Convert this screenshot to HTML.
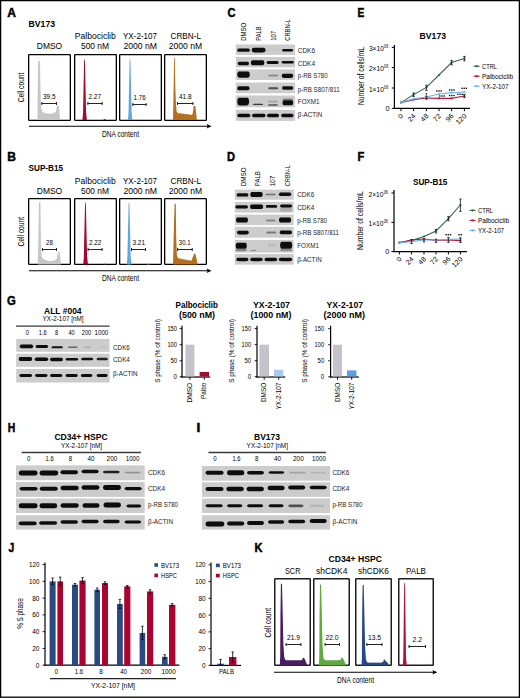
<!DOCTYPE html>
<html><head><meta charset="utf-8"><style>
html,body{margin:0;padding:0;background:#fff;}
svg{display:block;font-family:"Liberation Sans", sans-serif;}
</style></head><body>
<svg width="520" height="698" viewBox="0 0 520 698">
<defs><filter id="bl" x="-20%" y="-80%" width="140%" height="260%"><feGaussianBlur stdDeviation="0.45"/></filter></defs>
<rect x="0" y="0" width="520" height="698" fill="#fff"/>
<text x="7.20" y="17.00" font-size="12" font-weight="bold" stroke="#000" stroke-width="0.45" fill="#000" textLength="8.70" lengthAdjust="spacingAndGlyphs">A</text>
<text x="28.60" y="27.00" font-size="8.8" font-weight="bold" fill="#000" textLength="26.40" lengthAdjust="spacingAndGlyphs">BV173</text>
<text x="74.80" y="39.10" font-size="8.8" fill="#000" textLength="41.00" lengthAdjust="spacingAndGlyphs">Palbociclib</text>
<text x="123.00" y="39.10" font-size="8.8" fill="#000" textLength="34.00" lengthAdjust="spacingAndGlyphs">YX-2-107</text>
<text x="170.50" y="39.10" font-size="8.8" fill="#000" textLength="30.50" lengthAdjust="spacingAndGlyphs">CRBN-L</text>
<text x="36.80" y="49.40" font-size="8.8" fill="#000" textLength="25.40" lengthAdjust="spacingAndGlyphs">DMSO</text>
<text x="81.00" y="49.40" font-size="8.8" fill="#000" textLength="28.00" lengthAdjust="spacingAndGlyphs">500 nM</text>
<text x="123.50" y="49.40" font-size="8.8" fill="#000" textLength="33.50" lengthAdjust="spacingAndGlyphs">2000 nM</text>
<text x="168.80" y="49.40" font-size="8.8" fill="#000" textLength="33.20" lengthAdjust="spacingAndGlyphs">2000 nM</text>
<text transform="translate(23.60,102.20) rotate(-90)" x="0" y="0" font-size="8.8" fill="#000" textLength="29.60" lengthAdjust="spacingAndGlyphs">Cell count</text>
<rect x="28.65" y="54.65" width="41.70" height="65.70" fill="none" stroke="#000" stroke-width="1.3" rx="0.6"/>
<rect x="74.65" y="54.65" width="41.70" height="65.70" fill="none" stroke="#000" stroke-width="1.3" rx="0.6"/>
<rect x="119.65" y="54.65" width="41.70" height="65.70" fill="none" stroke="#000" stroke-width="1.3" rx="0.6"/>
<rect x="164.65" y="54.65" width="41.70" height="65.70" fill="none" stroke="#000" stroke-width="1.3" rx="0.6"/>
<line x1="29.00" y1="126.30" x2="208.60" y2="126.30" stroke="#000" stroke-width="1.1"/>
<path d="M206.60,124.00 L211.60,126.30 L206.60,128.60 L207.60,126.30 Z" fill="#000" stroke="none" stroke-width="1" />
<text x="102.00" y="137.00" font-size="8.6" fill="#000" textLength="37.00" lengthAdjust="spacingAndGlyphs">DNA content</text>
<path d="M37.40,120.00 L37.40,120.00 L37.90,75.00 L38.40,61.00 L40.00,61.00 L40.30,80.00 L40.80,100.00 L41.30,108.00 L42.20,111.60 L43.50,112.60 L44.55,113.29 L45.59,112.96 L46.64,113.75 L47.68,113.29 L48.73,113.95 L49.77,113.35 L50.82,113.89 L51.86,113.15 L52.91,113.56 L53.95,112.69 L55.00,112.60 L56.00,111.50 L56.60,108.00 L57.00,105.60 L58.80,105.80 L59.30,110.00 L60.10,119.00 L60.10,120.00 Z" fill="#c6c5ca" stroke="none" stroke-width="1" />
<path d="M82.46,120.00 L83.06,112.00 L84.05,63.40 L84.20,59.40 L84.80,59.40 L85.00,63.40 L86.06,112.00 L86.90,120.00 Z" fill="#a5092c" stroke="none" stroke-width="1" />
<path d="M103.10,120.00 L104.60,118.80 L106.10,120.00 Z" fill="#a5092c" stroke="none" stroke-width="1" />
<path d="M127.96,120.00 L128.56,112.00 L129.55,63.00 L129.70,59.00 L130.30,59.00 L130.50,63.00 L131.56,112.00 L132.40,120.00 Z" fill="#5ea7e2" stroke="none" stroke-width="1" />
<path d="M173.00,120.00 L173.00,120.00 L173.60,90.00 L174.10,58.00 L174.80,58.00 L175.20,83.00 L175.90,102.70 L176.70,112.00 L178.00,113.00 L179.00,113.52 L180.00,112.93 L181.00,113.74 L182.00,113.15 L183.00,113.97 L184.00,113.39 L185.00,114.22 L186.00,113.65 L187.00,114.49 L188.00,113.92 L189.00,114.77 L190.00,114.21 L191.00,115.06 L192.00,114.80 L192.60,114.00 L193.20,110.00 L193.70,106.10 L195.40,106.00 L196.00,112.00 L196.90,120.00 L196.90,120.00 Z" fill="#b5701f" stroke="none" stroke-width="1" />
<text x="43.00" y="99.00" font-size="6.6" fill="#000" textLength="12.60" lengthAdjust="spacingAndGlyphs">39.5</text>
<line x1="41.40" y1="103.50" x2="57.00" y2="103.50" stroke="#262626" stroke-width="1.0"/>
<line x1="41.90" y1="102.00" x2="41.90" y2="105.00" stroke="#262626" stroke-width="1.0"/>
<line x1="56.50" y1="102.00" x2="56.50" y2="105.00" stroke="#262626" stroke-width="1.0"/>
<text x="88.40" y="99.00" font-size="6.6" fill="#000" textLength="12.60" lengthAdjust="spacingAndGlyphs">2.27</text>
<line x1="87.40" y1="103.50" x2="102.60" y2="103.50" stroke="#262626" stroke-width="1.0"/>
<line x1="87.90" y1="102.00" x2="87.90" y2="105.00" stroke="#262626" stroke-width="1.0"/>
<line x1="102.10" y1="102.00" x2="102.10" y2="105.00" stroke="#262626" stroke-width="1.0"/>
<text x="133.60" y="100.00" font-size="6.6" fill="#000" textLength="12.00" lengthAdjust="spacingAndGlyphs">1.76</text>
<line x1="132.40" y1="104.50" x2="146.60" y2="104.50" stroke="#262626" stroke-width="1.0"/>
<line x1="132.90" y1="103.00" x2="132.90" y2="106.00" stroke="#262626" stroke-width="1.0"/>
<line x1="146.10" y1="103.00" x2="146.10" y2="106.00" stroke="#262626" stroke-width="1.0"/>
<text x="179.00" y="99.00" font-size="6.6" fill="#000" textLength="12.60" lengthAdjust="spacingAndGlyphs">41.8</text>
<line x1="177.00" y1="103.50" x2="193.40" y2="103.50" stroke="#262626" stroke-width="1.0"/>
<line x1="177.50" y1="102.00" x2="177.50" y2="105.00" stroke="#262626" stroke-width="1.0"/>
<line x1="192.90" y1="102.00" x2="192.90" y2="105.00" stroke="#262626" stroke-width="1.0"/>
<text x="7.20" y="161.40" font-size="12" font-weight="bold" stroke="#000" stroke-width="0.45" fill="#000" textLength="8.70" lengthAdjust="spacingAndGlyphs">B</text>
<text x="28.60" y="171.40" font-size="8.8" font-weight="bold" fill="#000" textLength="34.40" lengthAdjust="spacingAndGlyphs">SUP-B15</text>
<text x="74.80" y="183.50" font-size="8.8" fill="#000" textLength="41.00" lengthAdjust="spacingAndGlyphs">Palbociclib</text>
<text x="123.00" y="183.50" font-size="8.8" fill="#000" textLength="34.00" lengthAdjust="spacingAndGlyphs">YX-2-107</text>
<text x="170.50" y="183.50" font-size="8.8" fill="#000" textLength="30.50" lengthAdjust="spacingAndGlyphs">CRBN-L</text>
<text x="36.80" y="193.80" font-size="8.8" fill="#000" textLength="25.40" lengthAdjust="spacingAndGlyphs">DMSO</text>
<text x="81.00" y="193.80" font-size="8.8" fill="#000" textLength="28.00" lengthAdjust="spacingAndGlyphs">500 nM</text>
<text x="123.50" y="193.80" font-size="8.8" fill="#000" textLength="33.50" lengthAdjust="spacingAndGlyphs">2000 nM</text>
<text x="168.80" y="193.80" font-size="8.8" fill="#000" textLength="33.20" lengthAdjust="spacingAndGlyphs">2000 nM</text>
<text transform="translate(23.60,246.60) rotate(-90)" x="0" y="0" font-size="8.8" fill="#000" textLength="29.60" lengthAdjust="spacingAndGlyphs">Cell count</text>
<rect x="28.65" y="198.65" width="41.70" height="65.70" fill="none" stroke="#000" stroke-width="1.3" rx="0.6"/>
<rect x="74.65" y="198.65" width="41.70" height="65.70" fill="none" stroke="#000" stroke-width="1.3" rx="0.6"/>
<rect x="119.65" y="198.65" width="41.70" height="65.70" fill="none" stroke="#000" stroke-width="1.3" rx="0.6"/>
<rect x="164.65" y="198.65" width="41.70" height="65.70" fill="none" stroke="#000" stroke-width="1.3" rx="0.6"/>
<line x1="29.00" y1="270.70" x2="208.60" y2="270.70" stroke="#000" stroke-width="1.1"/>
<path d="M206.60,268.40 L211.60,270.70 L206.60,273.00 L207.60,270.70 Z" fill="#000" stroke="none" stroke-width="1" />
<text x="102.00" y="281.40" font-size="8.6" fill="#000" textLength="37.00" lengthAdjust="spacingAndGlyphs">DNA content</text>
<path d="M37.70,264.40 L37.70,264.40 L38.40,240.00 L38.90,202.00 L40.40,202.00 L40.70,225.00 L41.00,245.00 L41.60,256.40 L42.60,258.30 L44.00,259.30 L45.00,260.07 L46.00,259.96 L47.00,260.76 L48.00,260.49 L49.00,261.13 L50.00,260.70 L51.00,261.18 L52.00,260.59 L53.00,260.91 L54.00,260.16 L55.00,260.32 L56.00,259.60 L56.80,258.60 L57.60,255.00 L58.20,251.60 L59.40,251.80 L60.00,256.00 L61.10,264.40 L61.10,264.40 Z" fill="#c6c5ca" stroke="none" stroke-width="1" />
<path d="M83.19,264.40 L83.84,256.40 L84.95,206.40 L85.10,202.40 L85.70,202.40 L85.90,206.40 L87.09,256.40 L88.00,264.40 Z" fill="#a5092c" stroke="none" stroke-width="1" />
<path d="M103.70,264.40 L105.20,263.50 L106.70,264.40 Z" fill="#a5092c" stroke="none" stroke-width="1" />
<path d="M126.79,264.40 L127.44,256.40 L128.55,206.80 L128.70,202.80 L129.30,202.80 L129.50,206.80 L130.69,256.40 L131.60,264.40 Z" fill="#5ea7e2" stroke="none" stroke-width="1" />
<path d="M146.90,264.40 L148.40,263.20 L149.90,264.40 Z" fill="#5ea7e2" stroke="none" stroke-width="1" />
<path d="M173.00,264.40 L173.00,264.40 L173.70,235.00 L174.60,203.80 L175.80,203.80 L176.20,237.00 L176.90,255.40 L178.00,257.90 L179.00,258.20 L180.04,258.83 L181.08,258.49 L182.12,259.34 L183.17,258.96 L184.21,259.77 L185.25,259.36 L186.29,260.14 L187.33,259.69 L188.38,260.44 L189.42,259.96 L190.46,260.67 L191.50,260.40 L192.20,258.40 L193.40,255.50 L194.20,253.70 L195.40,253.80 L196.40,258.00 L197.60,264.40 L197.60,264.40 Z" fill="#b5701f" stroke="none" stroke-width="1" />
<text x="46.00" y="244.50" font-size="6.6" fill="#000" textLength="6.80" lengthAdjust="spacingAndGlyphs">28</text>
<line x1="42.00" y1="249.50" x2="57.00" y2="249.50" stroke="#262626" stroke-width="1.0"/>
<line x1="42.50" y1="248.00" x2="42.50" y2="251.00" stroke="#262626" stroke-width="1.0"/>
<line x1="56.50" y1="248.00" x2="56.50" y2="251.00" stroke="#262626" stroke-width="1.0"/>
<text x="89.00" y="244.50" font-size="6.6" fill="#000" textLength="12.40" lengthAdjust="spacingAndGlyphs">2.22</text>
<line x1="87.60" y1="249.50" x2="102.60" y2="249.50" stroke="#262626" stroke-width="1.0"/>
<line x1="88.10" y1="248.00" x2="88.10" y2="251.00" stroke="#262626" stroke-width="1.0"/>
<line x1="102.10" y1="248.00" x2="102.10" y2="251.00" stroke="#262626" stroke-width="1.0"/>
<text x="132.40" y="244.50" font-size="6.6" fill="#000" textLength="12.60" lengthAdjust="spacingAndGlyphs">3.21</text>
<line x1="131.00" y1="249.50" x2="146.00" y2="249.50" stroke="#262626" stroke-width="1.0"/>
<line x1="131.50" y1="248.00" x2="131.50" y2="251.00" stroke="#262626" stroke-width="1.0"/>
<line x1="145.50" y1="248.00" x2="145.50" y2="251.00" stroke="#262626" stroke-width="1.0"/>
<text x="178.80" y="244.50" font-size="6.6" fill="#000" textLength="11.70" lengthAdjust="spacingAndGlyphs">30.1</text>
<line x1="177.10" y1="249.50" x2="192.70" y2="249.50" stroke="#262626" stroke-width="1.0"/>
<line x1="177.60" y1="248.00" x2="177.60" y2="251.00" stroke="#262626" stroke-width="1.0"/>
<line x1="192.20" y1="248.00" x2="192.20" y2="251.00" stroke="#262626" stroke-width="1.0"/>
<text x="227.40" y="17.00" font-size="12" font-weight="bold" stroke="#000" stroke-width="0.45" fill="#000" textLength="8.00" lengthAdjust="spacingAndGlyphs">C</text>
<text transform="translate(245.80,40.80) rotate(-90)" x="0" y="0" font-size="6.8" fill="#000" textLength="18.10" lengthAdjust="spacingAndGlyphs">DMSO</text>
<text transform="translate(260.50,40.80) rotate(-90)" x="0" y="0" font-size="6.8" fill="#000" textLength="14.40" lengthAdjust="spacingAndGlyphs">PALB</text>
<text transform="translate(275.80,40.80) rotate(-90)" x="0" y="0" font-size="6.8" fill="#000" textLength="9.80" lengthAdjust="spacingAndGlyphs">107</text>
<text transform="translate(290.20,40.80) rotate(-90)" x="0" y="0" font-size="6.8" fill="#000" textLength="21.60" lengthAdjust="spacingAndGlyphs">CRBN-L</text>
<rect x="235.80" y="44.50" width="59.30" height="10.40" fill="#cccccc" />
<rect x="235.80" y="57.00" width="59.30" height="10.40" fill="#cccccc" />
<rect x="235.80" y="69.40" width="59.30" height="10.60" fill="#cccccc" />
<rect x="235.80" y="82.50" width="59.30" height="10.80" fill="#cccccc" />
<rect x="235.80" y="95.50" width="59.30" height="11.80" fill="#cccccc" />
<rect x="235.80" y="109.80" width="59.30" height="11.10" fill="#cccccc" />
<text x="297.80" y="52.80" font-size="7" fill="#1c1c1c" textLength="17.20" lengthAdjust="spacingAndGlyphs">CDK6</text>
<text x="297.80" y="66.00" font-size="7" fill="#1c1c1c" textLength="17.20" lengthAdjust="spacingAndGlyphs">CDK4</text>
<text x="297.80" y="78.40" font-size="7" fill="#1c1c1c" textLength="29.80" lengthAdjust="spacingAndGlyphs">p-RB S780</text>
<text x="297.80" y="91.60" font-size="7" fill="#1c1c1c" textLength="41.80" lengthAdjust="spacingAndGlyphs">p-RB S807/811</text>
<text x="297.80" y="104.00" font-size="7" fill="#1c1c1c" textLength="21.80" lengthAdjust="spacingAndGlyphs">FOXM1</text>
<text x="297.80" y="117.40" font-size="7" fill="#1c1c1c" textLength="24.50" lengthAdjust="spacingAndGlyphs">β-ACTIN</text>
<path d="M237.30,50.20 C237.68,48.55 238.30,48.55 240.05,48.55 L247.05,48.55 C248.80,48.55 249.43,48.55 249.80,50.20 C249.43,51.85 248.80,51.85 247.05,51.85 L240.05,51.85 C238.30,51.85 237.68,51.85 237.30,50.20 Z" fill="#0a0a0a" fill-opacity="1" filter="url(#bl)"/>
<path d="M251.70,50.10 C252.12,47.70 252.81,47.70 254.76,47.70 L262.54,47.70 C264.49,47.70 265.18,47.70 265.60,50.10 C265.18,52.50 264.49,52.50 262.54,52.50 L254.76,52.50 C252.81,52.50 252.12,52.50 251.70,50.10 Z" fill="#0a0a0a" fill-opacity="1" filter="url(#bl)"/>
<path d="M267.50,50.20 C267.81,49.60 268.34,49.60 269.81,49.60 L275.69,49.60 C277.16,49.60 277.69,49.60 278.00,50.20 C277.69,50.80 277.16,50.80 275.69,50.80 L269.81,50.80 C268.34,50.80 267.81,50.80 267.50,50.20 Z" fill="#0a0a0a" fill-opacity="0.04" filter="url(#bl)"/>
<path d="M282.00,50.20 C282.34,48.95 282.90,48.95 284.46,48.95 L290.74,48.95 C292.30,48.95 292.86,48.95 293.20,50.20 C292.86,51.45 292.30,51.45 290.74,51.45 L284.46,51.45 C282.90,51.45 282.34,51.45 282.00,50.20 Z" fill="#0a0a0a" fill-opacity="1" filter="url(#bl)"/>
<path d="M237.70,63.60 C238.04,61.85 238.60,61.85 240.19,61.85 L246.51,61.85 C248.10,61.85 248.66,61.85 249.00,63.60 C248.66,65.35 248.10,65.35 246.51,65.35 L240.19,65.35 C238.60,65.35 238.04,65.35 237.70,63.60 Z" fill="#0a0a0a" fill-opacity="1" filter="url(#bl)"/>
<path d="M250.80,62.70 C251.21,60.20 251.89,60.20 253.79,60.20 L261.41,60.20 C263.31,60.20 263.99,60.20 264.40,62.70 C263.99,65.20 263.31,65.20 261.41,65.20 L253.79,65.20 C251.89,65.20 251.21,65.20 250.80,62.70 Z" fill="#0a0a0a" fill-opacity="1" filter="url(#bl)"/>
<path d="M266.50,62.60 C266.87,61.10 267.48,61.10 269.18,61.10 L276.02,61.10 C277.72,61.10 278.33,61.10 278.70,62.60 C278.33,64.10 277.72,64.10 276.02,64.10 L269.18,64.10 C267.48,64.10 266.87,64.10 266.50,62.60 Z" fill="#0a0a0a" fill-opacity="1" filter="url(#bl)"/>
<path d="M281.50,62.30 C281.88,61.05 282.50,61.05 284.25,61.05 L291.25,61.05 C293.00,61.05 293.62,61.05 294.00,62.30 C293.62,63.55 293.00,63.55 291.25,63.55 L284.25,63.55 C282.50,63.55 281.88,63.55 281.50,62.30 Z" fill="#0a0a0a" fill-opacity="1" filter="url(#bl)"/>
<path d="M237.30,74.60 C237.68,71.50 238.30,71.50 240.05,71.50 L247.05,71.50 C248.80,71.50 249.43,71.50 249.80,74.60 C249.43,77.70 248.80,77.70 247.05,77.70 L240.05,77.70 C238.30,77.70 237.68,77.70 237.30,74.60 Z" fill="#0a0a0a" fill-opacity="1" filter="url(#bl)"/>
<path d="M268.00,75.60 C268.31,74.60 268.82,74.60 270.27,74.60 L276.03,74.60 C277.48,74.60 277.99,74.60 278.30,75.60 C277.99,76.60 277.48,76.60 276.03,76.60 L270.27,76.60 C268.82,76.60 268.31,76.60 268.00,75.60 Z" fill="#0a0a0a" fill-opacity="0.3" filter="url(#bl)"/>
<path d="M281.70,75.80 C282.05,73.70 282.62,73.70 284.23,73.70 L290.67,73.70 C292.28,73.70 292.85,73.70 293.20,75.80 C292.85,77.90 292.28,77.90 290.67,77.90 L284.23,77.90 C282.62,77.90 282.05,77.90 281.70,75.80 Z" fill="#0a0a0a" fill-opacity="1" filter="url(#bl)"/>
<path d="M237.30,88.20 C237.67,86.20 238.28,86.20 239.98,86.20 L246.82,86.20 C248.52,86.20 249.13,86.20 249.50,88.20 C249.13,90.20 248.52,90.20 246.82,90.20 L239.98,90.20 C238.28,90.20 237.67,90.20 237.30,88.20 Z" fill="#0a0a0a" fill-opacity="1" filter="url(#bl)"/>
<path d="M268.20,88.20 C268.50,87.20 269.01,87.20 270.42,87.20 L276.08,87.20 C277.49,87.20 278.00,87.20 278.30,88.20 C278.00,89.20 277.49,89.20 276.08,89.20 L270.42,89.20 C269.01,89.20 268.50,89.20 268.20,88.20 Z" fill="#0a0a0a" fill-opacity="0.65" filter="url(#bl)"/>
<path d="M282.10,88.00 C282.43,86.25 282.99,86.25 284.54,86.25 L290.76,86.25 C292.31,86.25 292.87,86.25 293.20,88.00 C292.87,89.75 292.31,89.75 290.76,89.75 L284.54,89.75 C282.99,89.75 282.43,89.75 282.10,88.00 Z" fill="#0a0a0a" fill-opacity="1" filter="url(#bl)"/>
<path d="M237.30,101.60 C237.65,97.80 238.24,97.80 239.90,97.80 L246.50,97.80 C248.16,97.80 248.75,97.80 249.10,101.60 C248.75,105.40 248.16,105.40 246.50,105.40 L239.90,105.40 C238.24,105.40 237.65,105.40 237.30,101.60 Z" fill="#0a0a0a" fill-opacity="1" filter="url(#bl)"/>
<path d="M253.00,104.40 C253.30,103.70 253.80,103.70 255.20,103.70 L260.80,103.70 C262.20,103.70 262.70,103.70 263.00,104.40 C262.70,105.10 262.20,105.10 260.80,105.10 L255.20,105.10 C253.80,105.10 253.30,105.10 253.00,104.40 Z" fill="#0a0a0a" fill-opacity="0.8" filter="url(#bl)"/>
<path d="M268.00,101.60 C268.30,100.80 268.80,100.80 270.20,100.80 L275.80,100.80 C277.20,100.80 277.70,100.80 278.00,101.60 C277.70,102.40 277.20,102.40 275.80,102.40 L270.20,102.40 C268.80,102.40 268.30,102.40 268.00,101.60 Z" fill="#0a0a0a" fill-opacity="0.2" filter="url(#bl)"/>
<path d="M268.00,105.00 C268.30,104.10 268.80,104.10 270.20,104.10 L275.80,104.10 C277.20,104.10 277.70,104.10 278.00,105.00 C277.70,105.90 277.20,105.90 275.80,105.90 L270.20,105.90 C268.80,105.90 268.30,105.90 268.00,105.00 Z" fill="#0a0a0a" fill-opacity="0.45" filter="url(#bl)"/>
<path d="M282.50,102.80 C282.82,100.30 283.36,100.30 284.85,100.30 L290.85,100.30 C292.34,100.30 292.88,100.30 293.20,102.80 C292.88,105.30 292.34,105.30 290.85,105.30 L284.85,105.30 C283.36,105.30 282.82,105.30 282.50,102.80 Z" fill="#0a0a0a" fill-opacity="1" filter="url(#bl)"/>
<path d="M282.50,99.50 C282.82,98.50 283.36,98.50 284.85,98.50 L290.85,98.50 C292.34,98.50 292.88,98.50 293.20,99.50 C292.88,100.50 292.34,100.50 290.85,100.50 L284.85,100.50 C283.36,100.50 282.82,100.50 282.50,99.50 Z" fill="#0a0a0a" fill-opacity="0.35" filter="url(#bl)"/>
<path d="M237.30,115.50 C237.69,113.70 238.35,113.70 240.18,113.70 L247.52,113.70 C249.35,113.70 250.01,113.70 250.40,115.50 C250.01,117.30 249.35,117.30 247.52,117.30 L240.18,117.30 C238.35,117.30 237.69,117.30 237.30,115.50 Z" fill="#0a0a0a" fill-opacity="1" filter="url(#bl)"/>
<path d="M252.00,115.50 C252.41,113.70 253.09,113.70 254.99,113.70 L262.61,113.70 C264.51,113.70 265.19,113.70 265.60,115.50 C265.19,117.30 264.51,117.30 262.61,117.30 L254.99,117.30 C253.09,117.30 252.41,117.30 252.00,115.50 Z" fill="#0a0a0a" fill-opacity="1" filter="url(#bl)"/>
<path d="M267.00,115.50 C267.36,113.70 267.96,113.70 269.64,113.70 L276.36,113.70 C278.04,113.70 278.64,113.70 279.00,115.50 C278.64,117.30 278.04,117.30 276.36,117.30 L269.64,117.30 C267.96,117.30 267.36,117.30 267.00,115.50 Z" fill="#0a0a0a" fill-opacity="1" filter="url(#bl)"/>
<path d="M281.20,115.50 C281.57,113.70 282.18,113.70 283.91,113.70 L290.79,113.70 C292.52,113.70 293.13,113.70 293.50,115.50 C293.13,117.30 292.52,117.30 290.79,117.30 L283.91,117.30 C282.18,117.30 281.57,117.30 281.20,115.50 Z" fill="#0a0a0a" fill-opacity="1" filter="url(#bl)"/>
<text x="227.00" y="161.40" font-size="12" font-weight="bold" stroke="#000" stroke-width="0.45" fill="#000" textLength="8.00" lengthAdjust="spacingAndGlyphs">D</text>
<text transform="translate(245.90,186.20) rotate(-90)" x="0" y="0" font-size="6.8" fill="#000" textLength="18.90" lengthAdjust="spacingAndGlyphs">DMSO</text>
<text transform="translate(260.40,186.20) rotate(-90)" x="0" y="0" font-size="6.8" fill="#000" textLength="15.00" lengthAdjust="spacingAndGlyphs">PALB</text>
<text transform="translate(275.40,186.20) rotate(-90)" x="0" y="0" font-size="6.8" fill="#000" textLength="10.40" lengthAdjust="spacingAndGlyphs">107</text>
<text transform="translate(290.00,186.20) rotate(-90)" x="0" y="0" font-size="6.8" fill="#000" textLength="21.00" lengthAdjust="spacingAndGlyphs">CRBN-L</text>
<rect x="234.80" y="189.60" width="58.90" height="10.10" fill="#cccccc" />
<rect x="234.80" y="201.90" width="58.90" height="10.70" fill="#cccccc" />
<rect x="234.80" y="214.60" width="58.90" height="10.50" fill="#cccccc" />
<rect x="234.80" y="226.80" width="58.90" height="10.90" fill="#cccccc" />
<rect x="234.80" y="239.90" width="58.90" height="12.70" fill="#cccccc" />
<rect x="234.80" y="254.00" width="58.90" height="10.60" fill="#cccccc" />
<text x="297.20" y="196.70" font-size="7" fill="#1c1c1c" textLength="17.20" lengthAdjust="spacingAndGlyphs">CDK6</text>
<text x="297.20" y="209.60" font-size="7" fill="#1c1c1c" textLength="17.20" lengthAdjust="spacingAndGlyphs">CDK4</text>
<text x="297.20" y="222.80" font-size="7" fill="#1c1c1c" textLength="29.80" lengthAdjust="spacingAndGlyphs">p-RB S780</text>
<text x="297.20" y="235.30" font-size="7" fill="#1c1c1c" textLength="41.80" lengthAdjust="spacingAndGlyphs">p-RB S807/811</text>
<text x="297.20" y="247.90" font-size="7" fill="#1c1c1c" textLength="21.80" lengthAdjust="spacingAndGlyphs">FOXM1</text>
<text x="297.20" y="261.60" font-size="7" fill="#1c1c1c" textLength="24.50" lengthAdjust="spacingAndGlyphs">β-ACTIN</text>
<path d="M236.60,194.90 C236.95,193.30 237.54,193.30 239.20,193.30 L245.80,193.30 C247.46,193.30 248.05,193.30 248.40,194.90 C248.05,196.50 247.46,196.50 245.80,196.50 L239.20,196.50 C237.54,196.50 236.95,196.50 236.60,194.90 Z" fill="#0a0a0a" fill-opacity="1" filter="url(#bl)"/>
<path d="M250.30,194.60 C250.67,192.10 251.29,192.10 253.03,192.10 L259.97,192.10 C261.71,192.10 262.33,192.10 262.70,194.60 C262.33,197.10 261.71,197.10 259.97,197.10 L253.03,197.10 C251.29,197.10 250.67,197.10 250.30,194.60 Z" fill="#0a0a0a" fill-opacity="1" filter="url(#bl)"/>
<path d="M265.30,194.50 C265.61,193.75 266.13,193.75 267.59,193.75 L273.41,193.75 C274.87,193.75 275.39,193.75 275.70,194.50 C275.39,195.25 274.87,195.25 273.41,195.25 L267.59,195.25 C266.13,195.25 265.61,195.25 265.30,194.50 Z" fill="#0a0a0a" fill-opacity="0.45" filter="url(#bl)"/>
<path d="M278.90,194.20 C279.27,192.45 279.88,192.45 281.61,192.45 L288.49,192.45 C290.22,192.45 290.83,192.45 291.20,194.20 C290.83,195.95 290.22,195.95 288.49,195.95 L281.61,195.95 C279.88,195.95 279.27,195.95 278.90,194.20 Z" fill="#0a0a0a" fill-opacity="1" filter="url(#bl)"/>
<path d="M235.30,206.90 C235.68,205.35 236.32,205.35 238.09,205.35 L245.21,205.35 C246.98,205.35 247.62,205.35 248.00,206.90 C247.62,208.45 246.98,208.45 245.21,208.45 L238.09,208.45 C236.32,208.45 235.68,208.45 235.30,206.90 Z" fill="#0a0a0a" fill-opacity="1" filter="url(#bl)"/>
<path d="M250.00,206.80 C250.40,204.55 251.06,204.55 252.90,204.55 L260.30,204.55 C262.14,204.55 262.80,204.55 263.20,206.80 C262.80,209.05 262.14,209.05 260.30,209.05 L252.90,209.05 C251.06,209.05 250.40,209.05 250.00,206.80 Z" fill="#0a0a0a" fill-opacity="1" filter="url(#bl)"/>
<path d="M265.80,206.40 C266.14,205.10 266.71,205.10 268.31,205.10 L274.69,205.10 C276.29,205.10 276.86,205.10 277.20,206.40 C276.86,207.70 276.29,207.70 274.69,207.70 L268.31,207.70 C266.71,207.70 266.14,207.70 265.80,206.40 Z" fill="#0a0a0a" fill-opacity="1" filter="url(#bl)"/>
<path d="M280.00,205.90 C280.37,204.40 280.98,204.40 282.68,204.40 L289.52,204.40 C291.22,204.40 291.83,204.40 292.20,205.90 C291.83,207.40 291.22,207.40 289.52,207.40 L282.68,207.40 C280.98,207.40 280.37,207.40 280.00,205.90 Z" fill="#0a0a0a" fill-opacity="1" filter="url(#bl)"/>
<path d="M280.00,209.50 C280.37,207.50 280.98,207.50 282.68,207.50 L289.52,207.50 C291.22,207.50 291.83,207.50 292.20,209.50 C291.83,211.50 291.22,211.50 289.52,211.50 L282.68,211.50 C280.98,211.50 280.37,211.50 280.00,209.50 Z" fill="#0a0a0a" fill-opacity="0.15" filter="url(#bl)"/>
<path d="M236.00,220.00 C236.36,217.50 236.96,217.50 238.64,217.50 L245.36,217.50 C247.04,217.50 247.64,217.50 248.00,220.00 C247.64,222.50 247.04,222.50 245.36,222.50 L238.64,222.50 C236.96,222.50 236.36,222.50 236.00,220.00 Z" fill="#0a0a0a" fill-opacity="1" filter="url(#bl)"/>
<path d="M265.80,220.60 C266.10,219.60 266.59,219.60 267.98,219.60 L273.52,219.60 C274.91,219.60 275.40,219.60 275.70,220.60 C275.40,221.60 274.91,221.60 273.52,221.60 L267.98,221.60 C266.59,221.60 266.10,221.60 265.80,220.60 Z" fill="#0a0a0a" fill-opacity="0.35" filter="url(#bl)"/>
<path d="M278.90,220.00 C279.27,217.50 279.88,217.50 281.61,217.50 L288.49,217.50 C290.22,217.50 290.83,217.50 291.20,220.00 C290.83,222.50 290.22,222.50 288.49,222.50 L281.61,222.50 C279.88,222.50 279.27,222.50 278.90,220.00 Z" fill="#0a0a0a" fill-opacity="1" filter="url(#bl)"/>
<path d="M237.00,232.60 C237.35,230.80 237.94,230.80 239.60,230.80 L246.20,230.80 C247.86,230.80 248.45,230.80 248.80,232.60 C248.45,234.40 247.86,234.40 246.20,234.40 L239.60,234.40 C237.94,234.40 237.35,234.40 237.00,232.60 Z" fill="#0a0a0a" fill-opacity="1" filter="url(#bl)"/>
<path d="M266.20,232.60 C266.50,231.60 267.01,231.60 268.42,231.60 L274.08,231.60 C275.49,231.60 276.00,231.60 276.30,232.60 C276.00,233.60 275.49,233.60 274.08,233.60 L268.42,233.60 C267.01,233.60 266.50,233.60 266.20,232.60 Z" fill="#0a0a0a" fill-opacity="0.4" filter="url(#bl)"/>
<path d="M279.70,232.40 C280.07,230.60 280.68,230.60 282.41,230.60 L289.29,230.60 C291.02,230.60 291.63,230.60 292.00,232.40 C291.63,234.20 291.02,234.20 289.29,234.20 L282.41,234.20 C280.68,234.20 280.07,234.20 279.70,232.40 Z" fill="#0a0a0a" fill-opacity="1" filter="url(#bl)"/>
<path d="M235.70,245.80 C236.03,242.80 236.59,242.80 238.14,242.80 L244.36,242.80 C245.91,242.80 246.47,242.80 246.80,245.80 C246.47,248.80 245.91,248.80 244.36,248.80 L238.14,248.80 C236.59,248.80 236.03,248.80 235.70,245.80 Z" fill="#0a0a0a" fill-opacity="1" filter="url(#bl)"/>
<path d="M235.70,250.00 C236.03,248.75 236.59,248.75 238.14,248.75 L244.36,248.75 C245.91,248.75 246.47,248.75 246.80,250.00 C246.47,251.25 245.91,251.25 244.36,251.25 L238.14,251.25 C236.59,251.25 236.03,251.25 235.70,250.00 Z" fill="#0a0a0a" fill-opacity="0.35" filter="url(#bl)"/>
<path d="M251.00,250.40 C251.15,249.90 251.40,249.90 252.10,249.90 L254.90,249.90 C255.60,249.90 255.85,249.90 256.00,250.40 C255.85,250.90 255.60,250.90 254.90,250.90 L252.10,250.90 C251.40,250.90 251.15,250.90 251.00,250.40 Z" fill="#0a0a0a" fill-opacity="0.35" filter="url(#bl)"/>
<path d="M268.00,245.00 C268.24,243.50 268.64,243.50 269.76,243.50 L274.24,243.50 C275.36,243.50 275.76,243.50 276.00,245.00 C275.76,246.50 275.36,246.50 274.24,246.50 L269.76,246.50 C268.64,246.50 268.24,246.50 268.00,245.00 Z" fill="#0a0a0a" fill-opacity="0.08" filter="url(#bl)"/>
<path d="M280.10,245.20 C280.46,241.70 281.07,241.70 282.76,241.70 L289.54,241.70 C291.23,241.70 291.84,241.70 292.20,245.20 C291.84,248.70 291.23,248.70 289.54,248.70 L282.76,248.70 C281.07,248.70 280.46,248.70 280.10,245.20 Z" fill="#0a0a0a" fill-opacity="1" filter="url(#bl)"/>
<path d="M280.10,250.00 C280.46,248.75 281.07,248.75 282.76,248.75 L289.54,248.75 C291.23,248.75 291.84,248.75 292.20,250.00 C291.84,251.25 291.23,251.25 289.54,251.25 L282.76,251.25 C281.07,251.25 280.46,251.25 280.10,250.00 Z" fill="#0a0a0a" fill-opacity="0.3" filter="url(#bl)"/>
<path d="M236.30,259.50 C236.66,257.85 237.27,257.85 238.96,257.85 L245.74,257.85 C247.43,257.85 248.04,257.85 248.40,259.50 C248.04,261.15 247.43,261.15 245.74,261.15 L238.96,261.15 C237.27,261.15 236.66,261.15 236.30,259.50 Z" fill="#0a0a0a" fill-opacity="1" filter="url(#bl)"/>
<path d="M250.30,259.50 C250.67,257.85 251.29,257.85 253.03,257.85 L259.97,257.85 C261.71,257.85 262.33,257.85 262.70,259.50 C262.33,261.15 261.71,261.15 259.97,261.15 L253.03,261.15 C251.29,261.15 250.67,261.15 250.30,259.50 Z" fill="#0a0a0a" fill-opacity="1" filter="url(#bl)"/>
<path d="M264.50,259.50 C264.88,257.85 265.52,257.85 267.29,257.85 L274.41,257.85 C276.18,257.85 276.82,257.85 277.20,259.50 C276.82,261.15 276.18,261.15 274.41,261.15 L267.29,261.15 C265.52,261.15 264.88,261.15 264.50,259.50 Z" fill="#0a0a0a" fill-opacity="1" filter="url(#bl)"/>
<path d="M278.90,259.50 C279.30,257.85 279.96,257.85 281.83,257.85 L289.27,257.85 C291.14,257.85 291.80,257.85 292.20,259.50 C291.80,261.15 291.14,261.15 289.27,261.15 L281.83,261.15 C279.96,261.15 279.30,261.15 278.90,259.50 Z" fill="#0a0a0a" fill-opacity="1" filter="url(#bl)"/>
<text transform="translate(364.30,105.00) rotate(-90)" x="0" y="0" font-size="8.8" fill="#000" textLength="58.00" lengthAdjust="spacingAndGlyphs">Number of cells/mL</text>
<text x="357.40" y="17.00" font-size="12" font-weight="bold" stroke="#000" stroke-width="0.45" fill="#000" textLength="6.80" lengthAdjust="spacingAndGlyphs">E</text>
<text x="419.60" y="39.40" font-size="9" font-weight="bold" fill="#000" textLength="26.40" lengthAdjust="spacingAndGlyphs">BV173</text>
<line x1="394.40" y1="45.00" x2="394.40" y2="108.90" stroke="#000" stroke-width="1.2"/>
<line x1="393.80" y1="108.40" x2="470.00" y2="108.40" stroke="#000" stroke-width="1.2"/>
<line x1="391.80" y1="47.40" x2="394.40" y2="47.40" stroke="#000" stroke-width="1"/>
<text x="368.90" y="51.20" font-size="6.6" fill="#000" textLength="15" lengthAdjust="spacingAndGlyphs">3×10</text>
<text x="384.10" y="47.90" font-size="4.9" fill="#000" textLength="4.3" lengthAdjust="spacingAndGlyphs">06</text>
<line x1="391.80" y1="67.60" x2="394.40" y2="67.60" stroke="#000" stroke-width="1"/>
<text x="368.90" y="71.40" font-size="6.6" fill="#000" textLength="15" lengthAdjust="spacingAndGlyphs">2×10</text>
<text x="384.10" y="68.10" font-size="4.9" fill="#000" textLength="4.3" lengthAdjust="spacingAndGlyphs">06</text>
<line x1="391.80" y1="88.00" x2="394.40" y2="88.00" stroke="#000" stroke-width="1"/>
<text x="368.90" y="91.80" font-size="6.6" fill="#000" textLength="15" lengthAdjust="spacingAndGlyphs">1×10</text>
<text x="384.10" y="88.50" font-size="4.9" fill="#000" textLength="4.3" lengthAdjust="spacingAndGlyphs">06</text>
<line x1="391.80" y1="108.40" x2="394.40" y2="108.40" stroke="#000" stroke-width="1"/>
<text x="385.60" y="111.00" font-size="6.8" fill="#000" textLength="4.00" lengthAdjust="spacingAndGlyphs">0</text>
<line x1="401.00" y1="108.40" x2="401.00" y2="111.20" stroke="#000" stroke-width="1"/>
<line x1="413.60" y1="108.40" x2="413.60" y2="111.20" stroke="#000" stroke-width="1"/>
<line x1="426.40" y1="108.40" x2="426.40" y2="111.20" stroke="#000" stroke-width="1"/>
<line x1="439.00" y1="108.40" x2="439.00" y2="111.20" stroke="#000" stroke-width="1"/>
<line x1="451.60" y1="108.40" x2="451.60" y2="111.20" stroke="#000" stroke-width="1"/>
<line x1="464.40" y1="108.40" x2="464.40" y2="111.20" stroke="#000" stroke-width="1"/>
<text transform="translate(403.60,116.50) rotate(-45)" x="-4.00" y="0" font-size="7" fill="#000" textLength="4.00" lengthAdjust="spacingAndGlyphs">0</text>
<text transform="translate(416.20,116.50) rotate(-45)" x="-8.00" y="0" font-size="7" fill="#000" textLength="8.00" lengthAdjust="spacingAndGlyphs">24</text>
<text transform="translate(429.00,116.50) rotate(-45)" x="-8.00" y="0" font-size="7" fill="#000" textLength="8.00" lengthAdjust="spacingAndGlyphs">48</text>
<text transform="translate(441.60,116.50) rotate(-45)" x="-8.00" y="0" font-size="7" fill="#000" textLength="8.00" lengthAdjust="spacingAndGlyphs">72</text>
<text transform="translate(454.20,116.50) rotate(-45)" x="-8.00" y="0" font-size="7" fill="#000" textLength="8.00" lengthAdjust="spacingAndGlyphs">96</text>
<text transform="translate(467.00,116.50) rotate(-45)" x="-12.00" y="0" font-size="7" fill="#000" textLength="12.00" lengthAdjust="spacingAndGlyphs">120</text>
<path d="M401.00,102.60 L413.60,94.60 L426.40,87.40 L439.00,75.00 L451.60,62.60 L464.40,58.60" fill="none" stroke="#2f6650" stroke-width="1.1" />
<circle cx="401.00" cy="102.60" r="1.1" fill="#2f6650"/>
<circle cx="413.60" cy="94.60" r="1.1" fill="#2f6650"/>
<circle cx="426.40" cy="87.40" r="1.1" fill="#2f6650"/>
<circle cx="439.00" cy="75.00" r="1.1" fill="#2f6650"/>
<circle cx="451.60" cy="62.60" r="1.1" fill="#2f6650"/>
<circle cx="464.40" cy="58.60" r="1.1" fill="#2f6650"/>
<path d="M401.00,102.60 L413.60,99.60 L426.40,98.00 L439.00,98.40 L451.60,98.40 L464.40,96.00" fill="none" stroke="#b41840" stroke-width="1.1" />
<circle cx="401.00" cy="102.60" r="1.1" fill="#b41840"/>
<circle cx="413.60" cy="99.60" r="1.1" fill="#b41840"/>
<circle cx="426.40" cy="98.00" r="1.1" fill="#b41840"/>
<circle cx="439.00" cy="98.40" r="1.1" fill="#b41840"/>
<circle cx="451.60" cy="98.40" r="1.1" fill="#b41840"/>
<circle cx="464.40" cy="96.00" r="1.1" fill="#b41840"/>
<path d="M401.00,102.60 L413.60,98.80 L426.40,97.00 L439.00,94.00 L451.60,92.60 L464.40,92.00" fill="none" stroke="#6cb2ec" stroke-width="1.1" />
<circle cx="401.00" cy="102.60" r="1.1" fill="#6cb2ec"/>
<circle cx="413.60" cy="98.80" r="1.1" fill="#6cb2ec"/>
<circle cx="426.40" cy="97.00" r="1.1" fill="#6cb2ec"/>
<circle cx="439.00" cy="94.00" r="1.1" fill="#6cb2ec"/>
<circle cx="451.60" cy="92.60" r="1.1" fill="#6cb2ec"/>
<circle cx="464.40" cy="92.00" r="1.1" fill="#6cb2ec"/>
<line x1="413.60" y1="93.00" x2="413.60" y2="96.50" stroke="#111" stroke-width="0.8"/>
<line x1="412.40" y1="93.00" x2="414.80" y2="93.00" stroke="#111" stroke-width="0.8"/>
<line x1="412.40" y1="96.50" x2="414.80" y2="96.50" stroke="#111" stroke-width="0.8"/>
<line x1="426.40" y1="85.20" x2="426.40" y2="90.40" stroke="#111" stroke-width="0.8"/>
<line x1="425.20" y1="85.20" x2="427.60" y2="85.20" stroke="#111" stroke-width="0.8"/>
<line x1="425.20" y1="90.40" x2="427.60" y2="90.40" stroke="#111" stroke-width="0.8"/>
<line x1="451.60" y1="60.40" x2="451.60" y2="64.80" stroke="#111" stroke-width="0.8"/>
<line x1="450.40" y1="60.40" x2="452.80" y2="60.40" stroke="#111" stroke-width="0.8"/>
<line x1="450.40" y1="64.80" x2="452.80" y2="64.80" stroke="#111" stroke-width="0.8"/>
<line x1="464.40" y1="56.40" x2="464.40" y2="60.80" stroke="#111" stroke-width="0.8"/>
<line x1="463.20" y1="56.40" x2="465.60" y2="56.40" stroke="#111" stroke-width="0.8"/>
<line x1="463.20" y1="60.80" x2="465.60" y2="60.80" stroke="#111" stroke-width="0.8"/>
<line x1="426.40" y1="96.00" x2="426.40" y2="99.20" stroke="#111" stroke-width="0.8"/>
<line x1="425.20" y1="96.00" x2="427.60" y2="96.00" stroke="#111" stroke-width="0.8"/>
<line x1="425.20" y1="99.20" x2="427.60" y2="99.20" stroke="#111" stroke-width="0.8"/>
<line x1="464.40" y1="94.40" x2="464.40" y2="97.60" stroke="#111" stroke-width="0.8"/>
<line x1="463.20" y1="94.40" x2="465.60" y2="94.40" stroke="#111" stroke-width="0.8"/>
<line x1="463.20" y1="97.60" x2="465.60" y2="97.60" stroke="#111" stroke-width="0.8"/>
<rect x="436.10" y="90.30" width="1.4" height="1.4" fill="#111"/>
<rect x="438.30" y="90.30" width="1.4" height="1.4" fill="#111"/>
<rect x="440.50" y="90.30" width="1.4" height="1.4" fill="#111"/>
<rect x="448.90" y="89.30" width="1.4" height="1.4" fill="#111"/>
<rect x="451.10" y="89.30" width="1.4" height="1.4" fill="#111"/>
<rect x="453.30" y="89.30" width="1.4" height="1.4" fill="#111"/>
<rect x="461.30" y="87.60" width="1.4" height="1.4" fill="#111"/>
<rect x="463.50" y="87.60" width="1.4" height="1.4" fill="#111"/>
<rect x="465.70" y="87.60" width="1.4" height="1.4" fill="#111"/>
<rect x="439.10" y="95.30" width="1.4" height="1.4" fill="#111"/>
<rect x="441.30" y="95.30" width="1.4" height="1.4" fill="#111"/>
<rect x="443.50" y="95.30" width="1.4" height="1.4" fill="#111"/>
<rect x="448.90" y="94.80" width="1.4" height="1.4" fill="#111"/>
<rect x="451.10" y="94.80" width="1.4" height="1.4" fill="#111"/>
<rect x="453.30" y="94.80" width="1.4" height="1.4" fill="#111"/>
<rect x="457.10" y="93.60" width="1.4" height="1.4" fill="#111"/>
<rect x="459.30" y="93.60" width="1.4" height="1.4" fill="#111"/>
<rect x="461.50" y="93.60" width="1.4" height="1.4" fill="#111"/>
<rect x="425.70" y="93.10" width="1.4" height="1.4" fill="#111"/>
<line x1="473.60" y1="66.20" x2="479.60" y2="66.20" stroke="#2f6650" stroke-width="1.1"/>
<circle cx="476.60" cy="66.20" r="1.1" fill="#2f6650"/>
<text x="482.00" y="68.60" font-size="6.8" fill="#000" textLength="15.00" lengthAdjust="spacingAndGlyphs">CTRL</text>
<line x1="473.60" y1="76.20" x2="479.60" y2="76.20" stroke="#b41840" stroke-width="1.1"/>
<circle cx="476.60" cy="76.20" r="1.1" fill="#b41840"/>
<text x="482.00" y="78.60" font-size="6.8" fill="#000" textLength="31.00" lengthAdjust="spacingAndGlyphs">Palbociclib</text>
<line x1="473.60" y1="86.20" x2="479.60" y2="86.20" stroke="#6cb2ec" stroke-width="1.1"/>
<circle cx="476.60" cy="86.20" r="1.1" fill="#6cb2ec"/>
<text x="482.00" y="88.60" font-size="6.8" fill="#000" textLength="26.40" lengthAdjust="spacingAndGlyphs">YX-2-107</text>
<text transform="translate(363.20,249.90) rotate(-90)" x="0" y="0" font-size="8.8" fill="#000" textLength="58.80" lengthAdjust="spacingAndGlyphs">Number of cells/mL</text>
<text x="357.40" y="161.40" font-size="12" font-weight="bold" stroke="#000" stroke-width="0.45" fill="#000" textLength="6.80" lengthAdjust="spacingAndGlyphs">F</text>
<text x="413.00" y="185.40" font-size="9" font-weight="bold" fill="#000" textLength="34.40" lengthAdjust="spacingAndGlyphs">SUP-B15</text>
<line x1="394.00" y1="190.00" x2="394.00" y2="252.10" stroke="#000" stroke-width="1.2"/>
<line x1="393.40" y1="251.60" x2="467.00" y2="251.60" stroke="#000" stroke-width="1.2"/>
<line x1="391.40" y1="193.00" x2="394.00" y2="193.00" stroke="#000" stroke-width="1"/>
<text x="368.50" y="196.80" font-size="6.6" fill="#000" textLength="15" lengthAdjust="spacingAndGlyphs">2×10</text>
<text x="383.70" y="193.50" font-size="4.9" fill="#000" textLength="4.3" lengthAdjust="spacingAndGlyphs">06</text>
<line x1="391.40" y1="222.40" x2="394.00" y2="222.40" stroke="#000" stroke-width="1"/>
<text x="368.50" y="226.20" font-size="6.6" fill="#000" textLength="15" lengthAdjust="spacingAndGlyphs">1×10</text>
<text x="383.70" y="222.90" font-size="4.9" fill="#000" textLength="4.3" lengthAdjust="spacingAndGlyphs">06</text>
<line x1="391.40" y1="251.60" x2="394.00" y2="251.60" stroke="#000" stroke-width="1"/>
<text x="385.20" y="254.20" font-size="6.8" fill="#000" textLength="4.00" lengthAdjust="spacingAndGlyphs">0</text>
<line x1="399.40" y1="251.60" x2="399.40" y2="254.40" stroke="#000" stroke-width="1"/>
<line x1="411.60" y1="251.60" x2="411.60" y2="254.40" stroke="#000" stroke-width="1"/>
<line x1="424.00" y1="251.60" x2="424.00" y2="254.40" stroke="#000" stroke-width="1"/>
<line x1="436.00" y1="251.60" x2="436.00" y2="254.40" stroke="#000" stroke-width="1"/>
<line x1="448.40" y1="251.60" x2="448.40" y2="254.40" stroke="#000" stroke-width="1"/>
<line x1="460.40" y1="251.60" x2="460.40" y2="254.40" stroke="#000" stroke-width="1"/>
<text transform="translate(402.00,259.50) rotate(-45)" x="-4.00" y="0" font-size="7" fill="#000" textLength="4.00" lengthAdjust="spacingAndGlyphs">0</text>
<text transform="translate(414.20,259.50) rotate(-45)" x="-8.00" y="0" font-size="7" fill="#000" textLength="8.00" lengthAdjust="spacingAndGlyphs">24</text>
<text transform="translate(426.60,259.50) rotate(-45)" x="-8.00" y="0" font-size="7" fill="#000" textLength="8.00" lengthAdjust="spacingAndGlyphs">48</text>
<text transform="translate(438.60,259.50) rotate(-45)" x="-8.00" y="0" font-size="7" fill="#000" textLength="8.00" lengthAdjust="spacingAndGlyphs">72</text>
<text transform="translate(451.00,259.50) rotate(-45)" x="-8.00" y="0" font-size="7" fill="#000" textLength="8.00" lengthAdjust="spacingAndGlyphs">96</text>
<text transform="translate(463.00,259.50) rotate(-45)" x="-12.00" y="0" font-size="7" fill="#000" textLength="12.00" lengthAdjust="spacingAndGlyphs">120</text>
<path d="M399.40,242.60 L411.60,240.60 L424.00,236.60 L436.00,231.00 L448.40,218.60 L460.40,205.00" fill="none" stroke="#2f6650" stroke-width="1.1" />
<circle cx="399.40" cy="242.60" r="1.1" fill="#2f6650"/>
<circle cx="411.60" cy="240.60" r="1.1" fill="#2f6650"/>
<circle cx="424.00" cy="236.60" r="1.1" fill="#2f6650"/>
<circle cx="436.00" cy="231.00" r="1.1" fill="#2f6650"/>
<circle cx="448.40" cy="218.60" r="1.1" fill="#2f6650"/>
<circle cx="460.40" cy="205.00" r="1.1" fill="#2f6650"/>
<path d="M399.40,242.60 L411.60,240.00 L424.00,239.00 L436.00,240.40 L448.40,240.00 L460.40,240.60" fill="none" stroke="#b41840" stroke-width="1.1" />
<circle cx="399.40" cy="242.60" r="1.1" fill="#b41840"/>
<circle cx="411.60" cy="240.00" r="1.1" fill="#b41840"/>
<circle cx="424.00" cy="239.00" r="1.1" fill="#b41840"/>
<circle cx="436.00" cy="240.40" r="1.1" fill="#b41840"/>
<circle cx="448.40" cy="240.00" r="1.1" fill="#b41840"/>
<circle cx="460.40" cy="240.60" r="1.1" fill="#b41840"/>
<path d="M399.40,242.60 L411.60,241.60 L424.00,240.00 L436.00,240.00 L448.40,239.40 L460.40,239.00" fill="none" stroke="#6cb2ec" stroke-width="1.1" />
<circle cx="399.40" cy="242.60" r="1.1" fill="#6cb2ec"/>
<circle cx="411.60" cy="241.60" r="1.1" fill="#6cb2ec"/>
<circle cx="424.00" cy="240.00" r="1.1" fill="#6cb2ec"/>
<circle cx="436.00" cy="240.00" r="1.1" fill="#6cb2ec"/>
<circle cx="448.40" cy="239.40" r="1.1" fill="#6cb2ec"/>
<circle cx="460.40" cy="239.00" r="1.1" fill="#6cb2ec"/>
<line x1="411.60" y1="239.50" x2="411.60" y2="243.50" stroke="#111" stroke-width="0.8"/>
<line x1="410.40" y1="239.50" x2="412.80" y2="239.50" stroke="#111" stroke-width="0.8"/>
<line x1="410.40" y1="243.50" x2="412.80" y2="243.50" stroke="#111" stroke-width="0.8"/>
<line x1="436.00" y1="229.50" x2="436.00" y2="233.00" stroke="#111" stroke-width="0.8"/>
<line x1="434.80" y1="229.50" x2="437.20" y2="229.50" stroke="#111" stroke-width="0.8"/>
<line x1="434.80" y1="233.00" x2="437.20" y2="233.00" stroke="#111" stroke-width="0.8"/>
<line x1="448.40" y1="216.40" x2="448.40" y2="220.80" stroke="#111" stroke-width="0.8"/>
<line x1="447.20" y1="216.40" x2="449.60" y2="216.40" stroke="#111" stroke-width="0.8"/>
<line x1="447.20" y1="220.80" x2="449.60" y2="220.80" stroke="#111" stroke-width="0.8"/>
<line x1="460.40" y1="199.00" x2="460.40" y2="211.40" stroke="#111" stroke-width="0.8"/>
<line x1="459.20" y1="199.00" x2="461.60" y2="199.00" stroke="#111" stroke-width="0.8"/>
<line x1="459.20" y1="211.40" x2="461.60" y2="211.40" stroke="#111" stroke-width="0.8"/>
<line x1="424.00" y1="239.20" x2="424.00" y2="241.90" stroke="#111" stroke-width="0.8"/>
<line x1="422.80" y1="239.20" x2="425.20" y2="239.20" stroke="#111" stroke-width="0.8"/>
<line x1="422.80" y1="241.90" x2="425.20" y2="241.90" stroke="#111" stroke-width="0.8"/>
<line x1="436.00" y1="239.20" x2="436.00" y2="242.40" stroke="#111" stroke-width="0.8"/>
<line x1="434.80" y1="239.20" x2="437.20" y2="239.20" stroke="#111" stroke-width="0.8"/>
<line x1="434.80" y1="242.40" x2="437.20" y2="242.40" stroke="#111" stroke-width="0.8"/>
<line x1="448.40" y1="237.40" x2="448.40" y2="242.40" stroke="#111" stroke-width="0.8"/>
<line x1="447.20" y1="237.40" x2="449.60" y2="237.40" stroke="#111" stroke-width="0.8"/>
<line x1="447.20" y1="242.40" x2="449.60" y2="242.40" stroke="#111" stroke-width="0.8"/>
<line x1="460.40" y1="237.80" x2="460.40" y2="242.40" stroke="#111" stroke-width="0.8"/>
<line x1="459.20" y1="237.80" x2="461.60" y2="237.80" stroke="#111" stroke-width="0.8"/>
<line x1="459.20" y1="242.40" x2="461.60" y2="242.40" stroke="#111" stroke-width="0.8"/>
<rect x="445.40" y="234.00" width="1.4" height="1.4" fill="#111"/>
<rect x="447.60" y="234.00" width="1.4" height="1.4" fill="#111"/>
<rect x="449.80" y="234.00" width="1.4" height="1.4" fill="#111"/>
<rect x="458.40" y="234.00" width="1.4" height="1.4" fill="#111"/>
<rect x="460.60" y="234.00" width="1.4" height="1.4" fill="#111"/>
<line x1="469.60" y1="210.40" x2="475.60" y2="210.40" stroke="#2f6650" stroke-width="1.1"/>
<circle cx="472.60" cy="210.40" r="1.1" fill="#2f6650"/>
<text x="478.00" y="212.80" font-size="6.8" fill="#000" textLength="15.00" lengthAdjust="spacingAndGlyphs">CTRL</text>
<line x1="469.60" y1="220.40" x2="475.60" y2="220.40" stroke="#b41840" stroke-width="1.1"/>
<circle cx="472.60" cy="220.40" r="1.1" fill="#b41840"/>
<text x="478.00" y="222.80" font-size="6.8" fill="#000" textLength="31.00" lengthAdjust="spacingAndGlyphs">Palbociclib</text>
<line x1="469.60" y1="230.40" x2="475.60" y2="230.40" stroke="#6cb2ec" stroke-width="1.1"/>
<circle cx="472.60" cy="230.40" r="1.1" fill="#6cb2ec"/>
<text x="478.00" y="232.80" font-size="6.8" fill="#000" textLength="26.00" lengthAdjust="spacingAndGlyphs">YX-2-107</text>
<text x="6.90" y="305.30" font-size="12" font-weight="bold" stroke="#000" stroke-width="0.45" fill="#000" textLength="8.80" lengthAdjust="spacingAndGlyphs">G</text>
<text x="44.00" y="313.60" font-size="8.2" font-weight="bold" fill="#000" textLength="37.60" lengthAdjust="spacingAndGlyphs">ALL #004</text>
<text x="42.60" y="320.60" font-size="6.6" fill="#000" textLength="41.00" lengthAdjust="spacingAndGlyphs">YX-2-107 [nM]</text>
<line x1="16.00" y1="326.20" x2="109.60" y2="326.20" stroke="#3a3a3a" stroke-width="1.3"/>
<text x="25.80" y="334.50" font-size="6.6" fill="#000" textLength="3.20" lengthAdjust="spacingAndGlyphs">0</text>
<text x="38.80" y="334.50" font-size="6.6" fill="#000" textLength="7.80" lengthAdjust="spacingAndGlyphs">1.6</text>
<text x="55.00" y="334.50" font-size="6.6" fill="#000" textLength="3.20" lengthAdjust="spacingAndGlyphs">8</text>
<text x="68.50" y="334.50" font-size="6.6" fill="#000" textLength="6.20" lengthAdjust="spacingAndGlyphs">40</text>
<text x="81.80" y="334.50" font-size="6.6" fill="#000" textLength="9.40" lengthAdjust="spacingAndGlyphs">200</text>
<text x="94.60" y="334.50" font-size="6.6" fill="#000" textLength="13.60" lengthAdjust="spacingAndGlyphs">1000</text>
<rect x="16.20" y="338.90" width="93.30" height="12.90" fill="#cccccc" />
<rect x="16.20" y="353.70" width="93.30" height="13.10" fill="#cccccc" />
<rect x="16.20" y="369.00" width="93.30" height="13.50" fill="#cccccc" />
<text x="113.00" y="349.50" font-size="7" fill="#1c1c1c" textLength="16.90" lengthAdjust="spacingAndGlyphs">CDK6</text>
<text x="113.00" y="361.90" font-size="7" fill="#1c1c1c" textLength="16.90" lengthAdjust="spacingAndGlyphs">CDK4</text>
<text x="113.00" y="376.10" font-size="7" fill="#1c1c1c" textLength="24.60" lengthAdjust="spacingAndGlyphs">β-ACTIN</text>
<path d="M19.70,346.40 C20.11,344.60 20.78,344.60 22.67,344.60 L30.23,344.60 C32.12,344.60 32.80,344.60 33.20,346.40 C32.80,348.20 32.12,348.20 30.23,348.20 L22.67,348.20 C20.78,348.20 20.11,348.20 19.70,346.40 Z" fill="#0a0a0a" fill-opacity="1" filter="url(#bl)"/>
<path d="M35.50,346.60 C35.88,345.10 36.52,345.10 38.29,345.10 L45.41,345.10 C47.18,345.10 47.82,345.10 48.20,346.60 C47.82,348.10 47.18,348.10 45.41,348.10 L38.29,348.10 C36.52,348.10 35.88,348.10 35.50,346.60 Z" fill="#0a0a0a" fill-opacity="1" filter="url(#bl)"/>
<path d="M51.40,347.20 C51.75,346.20 52.33,346.20 53.95,346.20 L60.45,346.20 C62.07,346.20 62.65,346.20 63.00,347.20 C62.65,348.20 62.07,348.20 60.45,348.20 L53.95,348.20 C52.33,348.20 51.75,348.20 51.40,347.20 Z" fill="#0a0a0a" fill-opacity="0.95" filter="url(#bl)"/>
<path d="M68.00,347.20 C68.29,346.45 68.77,346.45 70.11,346.45 L75.49,346.45 C76.83,346.45 77.31,346.45 77.60,347.20 C77.31,347.95 76.83,347.95 75.49,347.95 L70.11,347.95 C68.77,347.95 68.29,347.95 68.00,347.20 Z" fill="#0a0a0a" fill-opacity="0.5" filter="url(#bl)"/>
<path d="M84.00,347.20 C84.22,346.60 84.58,346.60 85.58,346.60 L89.62,346.60 C90.62,346.60 90.98,346.60 91.20,347.20 C90.98,347.80 90.62,347.80 89.62,347.80 L85.58,347.80 C84.58,347.80 84.22,347.80 84.00,347.20 Z" fill="#0a0a0a" fill-opacity="0.16" filter="url(#bl)"/>
<path d="M99.50,347.20 C99.72,346.60 100.10,346.60 101.15,346.60 L105.35,346.60 C106.40,346.60 106.78,346.60 107.00,347.20 C106.78,347.80 106.40,347.80 105.35,347.80 L101.15,347.80 C100.10,347.80 99.72,347.80 99.50,347.20 Z" fill="#0a0a0a" fill-opacity="0.06" filter="url(#bl)"/>
<path d="M18.70,359.00 C19.11,357.00 19.78,357.00 21.67,357.00 L29.23,357.00 C31.12,357.00 31.80,357.00 32.20,359.00 C31.80,361.00 31.12,361.00 29.23,361.00 L21.67,361.00 C19.78,361.00 19.11,361.00 18.70,359.00 Z" fill="#0a0a0a" fill-opacity="1" filter="url(#bl)"/>
<path d="M34.70,359.20 C35.11,357.45 35.78,357.45 37.67,357.45 L45.23,357.45 C47.12,357.45 47.80,357.45 48.20,359.20 C47.80,360.95 47.12,360.95 45.23,360.95 L37.67,360.95 C35.78,360.95 35.11,360.95 34.70,359.20 Z" fill="#0a0a0a" fill-opacity="1" filter="url(#bl)"/>
<path d="M50.00,359.40 C50.39,357.65 51.04,357.65 52.86,357.65 L60.14,357.65 C61.96,357.65 62.61,357.65 63.00,359.40 C62.61,361.15 61.96,361.15 60.14,361.15 L52.86,361.15 C51.04,361.15 50.39,361.15 50.00,359.40 Z" fill="#0a0a0a" fill-opacity="1" filter="url(#bl)"/>
<path d="M65.50,359.20 C65.88,357.90 66.52,357.90 68.32,357.90 L75.48,357.90 C77.28,357.90 77.92,357.90 78.30,359.20 C77.92,360.50 77.28,360.50 75.48,360.50 L68.32,360.50 C66.52,360.50 65.88,360.50 65.50,359.20 Z" fill="#0a0a0a" fill-opacity="1" filter="url(#bl)"/>
<path d="M81.20,359.00 C81.56,357.70 82.16,357.70 83.84,357.70 L90.56,357.70 C92.24,357.70 92.84,357.70 93.20,359.00 C92.84,360.30 92.24,360.30 90.56,360.30 L83.84,360.30 C82.16,360.30 81.56,360.30 81.20,359.00 Z" fill="#0a0a0a" fill-opacity="1" filter="url(#bl)"/>
<path d="M96.60,359.00 C96.94,357.70 97.50,357.70 99.06,357.70 L105.34,357.70 C106.90,357.70 107.46,357.70 107.80,359.00 C107.46,360.30 106.90,360.30 105.34,360.30 L99.06,360.30 C97.50,360.30 96.94,360.30 96.60,359.00 Z" fill="#0a0a0a" fill-opacity="0.9" filter="url(#bl)"/>
<path d="M19.30,375.40 C19.69,373.90 20.33,373.90 22.14,373.90 L29.36,373.90 C31.17,373.90 31.81,373.90 32.20,375.40 C31.81,376.90 31.17,376.90 29.36,376.90 L22.14,376.90 C20.33,376.90 19.69,376.90 19.30,375.40 Z" fill="#0a0a0a" fill-opacity="1" filter="url(#bl)"/>
<path d="M35.00,375.60 C35.38,374.10 36.01,374.10 37.77,374.10 L44.83,374.10 C46.59,374.10 47.22,374.10 47.60,375.60 C47.22,377.10 46.59,377.10 44.83,377.10 L37.77,377.10 C36.01,377.10 35.38,377.10 35.00,375.60 Z" fill="#0a0a0a" fill-opacity="1" filter="url(#bl)"/>
<path d="M50.00,375.60 C50.37,374.10 50.99,374.10 52.73,374.10 L59.67,374.10 C61.41,374.10 62.03,374.10 62.40,375.60 C62.03,377.10 61.41,377.10 59.67,377.10 L52.73,377.10 C50.99,377.10 50.37,377.10 50.00,375.60 Z" fill="#0a0a0a" fill-opacity="1" filter="url(#bl)"/>
<path d="M65.50,375.40 C65.87,373.90 66.48,373.90 68.21,373.90 L75.09,373.90 C76.82,373.90 77.43,373.90 77.80,375.40 C77.43,376.90 76.82,376.90 75.09,376.90 L68.21,376.90 C66.48,376.90 65.87,376.90 65.50,375.40 Z" fill="#0a0a0a" fill-opacity="1" filter="url(#bl)"/>
<path d="M80.80,375.40 C81.15,373.90 81.73,373.90 83.35,373.90 L89.85,373.90 C91.47,373.90 92.05,373.90 92.40,375.40 C92.05,376.90 91.47,376.90 89.85,376.90 L83.35,376.90 C81.73,376.90 81.15,376.90 80.80,375.40 Z" fill="#0a0a0a" fill-opacity="1" filter="url(#bl)"/>
<path d="M96.60,375.40 C96.93,373.90 97.48,373.90 99.02,373.90 L105.18,373.90 C106.72,373.90 107.27,373.90 107.60,375.40 C107.27,376.90 106.72,376.90 105.18,376.90 L99.02,376.90 C97.48,376.90 96.93,376.90 96.60,375.40 Z" fill="#0a0a0a" fill-opacity="1" filter="url(#bl)"/>
<text x="175.60" y="308.40" font-size="8.4" font-weight="bold" fill="#000" textLength="42.40" lengthAdjust="spacingAndGlyphs">Palbociclib</text>
<text x="179.00" y="318.00" font-size="8.4" font-weight="bold" fill="#000" textLength="36.00" lengthAdjust="spacingAndGlyphs">(500 nM)</text>
<text transform="translate(159.80,382.80) rotate(-90)" x="0" y="0" font-size="8" fill="#000" textLength="63.80" lengthAdjust="spacingAndGlyphs">S phase (% of control)</text>
<line x1="179.60" y1="328.61" x2="182.00" y2="328.61" stroke="#000" stroke-width="0.9"/>
<text x="167.40" y="330.91" font-size="6.6" fill="#000" textLength="9.60" lengthAdjust="spacingAndGlyphs">150</text>
<line x1="179.60" y1="344.67" x2="182.00" y2="344.67" stroke="#000" stroke-width="0.9"/>
<text x="167.40" y="346.97" font-size="6.6" fill="#000" textLength="9.60" lengthAdjust="spacingAndGlyphs">100</text>
<line x1="179.60" y1="360.74" x2="182.00" y2="360.74" stroke="#000" stroke-width="0.9"/>
<text x="170.40" y="363.04" font-size="6.6" fill="#000" textLength="6.60" lengthAdjust="spacingAndGlyphs">50</text>
<line x1="179.60" y1="376.80" x2="182.00" y2="376.80" stroke="#000" stroke-width="0.9"/>
<text x="173.60" y="379.10" font-size="6.6" fill="#000" textLength="3.40" lengthAdjust="spacingAndGlyphs">0</text>
<line x1="182.00" y1="325.80" x2="182.00" y2="377.40" stroke="#000" stroke-width="1.2"/>
<line x1="181.40" y1="377.00" x2="210.20" y2="377.00" stroke="#000" stroke-width="1.2"/>
<rect x="185.40" y="344.67" width="9.00" height="31.73" fill="#c4c3c9" />
<line x1="189.90" y1="377.00" x2="189.90" y2="379.80" stroke="#000" stroke-width="0.9"/>
<rect x="199.60" y="371.98" width="9.40" height="4.42" fill="#a60a2e" />
<line x1="204.30" y1="377.00" x2="204.30" y2="379.80" stroke="#000" stroke-width="0.9"/>
<text transform="translate(191.80,402.40) rotate(-90)" x="0" y="0" font-size="6.4" fill="#000" textLength="19.60" lengthAdjust="spacingAndGlyphs">DMSO</text>
<text transform="translate(205.80,399.00) rotate(-90)" x="0" y="0" font-size="6.4" fill="#000" textLength="16.20" lengthAdjust="spacingAndGlyphs">Palbo</text>
<text x="253.00" y="308.40" font-size="8.4" font-weight="bold" fill="#000" textLength="37.00" lengthAdjust="spacingAndGlyphs">YX-2-107</text>
<text x="250.60" y="318.00" font-size="8.4" font-weight="bold" fill="#000" textLength="40.80" lengthAdjust="spacingAndGlyphs">(1000 nM)</text>
<text transform="translate(234.20,382.80) rotate(-90)" x="0" y="0" font-size="8" fill="#000" textLength="63.80" lengthAdjust="spacingAndGlyphs">S phase (% of control)</text>
<line x1="254.60" y1="328.61" x2="257.00" y2="328.61" stroke="#000" stroke-width="0.9"/>
<text x="241.50" y="330.91" font-size="6.6" fill="#000" textLength="9.60" lengthAdjust="spacingAndGlyphs">150</text>
<line x1="254.60" y1="344.67" x2="257.00" y2="344.67" stroke="#000" stroke-width="0.9"/>
<text x="241.50" y="346.97" font-size="6.6" fill="#000" textLength="9.60" lengthAdjust="spacingAndGlyphs">100</text>
<line x1="254.60" y1="360.74" x2="257.00" y2="360.74" stroke="#000" stroke-width="0.9"/>
<text x="244.50" y="363.04" font-size="6.6" fill="#000" textLength="6.60" lengthAdjust="spacingAndGlyphs">50</text>
<line x1="254.60" y1="376.80" x2="257.00" y2="376.80" stroke="#000" stroke-width="0.9"/>
<text x="247.70" y="379.10" font-size="6.6" fill="#000" textLength="3.40" lengthAdjust="spacingAndGlyphs">0</text>
<line x1="257.00" y1="325.80" x2="257.00" y2="377.40" stroke="#000" stroke-width="1.2"/>
<line x1="256.40" y1="377.00" x2="285.20" y2="377.00" stroke="#000" stroke-width="1.2"/>
<rect x="259.40" y="344.67" width="9.60" height="31.73" fill="#c4c3c9" />
<line x1="264.20" y1="377.00" x2="264.20" y2="379.80" stroke="#000" stroke-width="0.9"/>
<rect x="274.00" y="369.73" width="9.40" height="6.67" fill="#a9c9ef" />
<line x1="278.70" y1="377.00" x2="278.70" y2="379.80" stroke="#000" stroke-width="0.9"/>
<text transform="translate(266.20,402.00) rotate(-90)" x="0" y="0" font-size="6.4" fill="#000" textLength="19.20" lengthAdjust="spacingAndGlyphs">DMSO</text>
<text transform="translate(281.20,409.50) rotate(-90)" x="0" y="0" font-size="6.4" fill="#000" textLength="26.70" lengthAdjust="spacingAndGlyphs">YX-2-107</text>
<text x="326.60" y="308.40" font-size="8.4" font-weight="bold" fill="#000" textLength="36.40" lengthAdjust="spacingAndGlyphs">YX-2-107</text>
<text x="323.60" y="318.00" font-size="8.4" font-weight="bold" fill="#000" textLength="41.40" lengthAdjust="spacingAndGlyphs">(2000 nM)</text>
<text transform="translate(307.40,382.80) rotate(-90)" x="0" y="0" font-size="8" fill="#000" textLength="63.80" lengthAdjust="spacingAndGlyphs">S phase (% of control)</text>
<line x1="328.20" y1="328.61" x2="330.60" y2="328.61" stroke="#000" stroke-width="0.9"/>
<text x="314.60" y="330.91" font-size="6.6" fill="#000" textLength="9.60" lengthAdjust="spacingAndGlyphs">150</text>
<line x1="328.20" y1="344.67" x2="330.60" y2="344.67" stroke="#000" stroke-width="0.9"/>
<text x="314.60" y="346.97" font-size="6.6" fill="#000" textLength="9.60" lengthAdjust="spacingAndGlyphs">100</text>
<line x1="328.20" y1="360.74" x2="330.60" y2="360.74" stroke="#000" stroke-width="0.9"/>
<text x="317.60" y="363.04" font-size="6.6" fill="#000" textLength="6.60" lengthAdjust="spacingAndGlyphs">50</text>
<line x1="328.20" y1="376.80" x2="330.60" y2="376.80" stroke="#000" stroke-width="0.9"/>
<text x="320.80" y="379.10" font-size="6.6" fill="#000" textLength="3.40" lengthAdjust="spacingAndGlyphs">0</text>
<line x1="330.60" y1="325.80" x2="330.60" y2="377.40" stroke="#000" stroke-width="1.2"/>
<line x1="330.00" y1="377.00" x2="358.80" y2="377.00" stroke="#000" stroke-width="1.2"/>
<rect x="333.00" y="344.67" width="9.00" height="31.73" fill="#c4c3c9" />
<line x1="337.50" y1="377.00" x2="337.50" y2="379.80" stroke="#000" stroke-width="0.9"/>
<rect x="347.00" y="370.37" width="9.40" height="6.03" fill="#5c9fe2" />
<line x1="351.70" y1="377.00" x2="351.70" y2="379.80" stroke="#000" stroke-width="0.9"/>
<text transform="translate(339.70,402.00) rotate(-90)" x="0" y="0" font-size="6.4" fill="#000" textLength="19.20" lengthAdjust="spacingAndGlyphs">DMSO</text>
<text transform="translate(353.80,409.50) rotate(-90)" x="0" y="0" font-size="6.4" fill="#000" textLength="26.70" lengthAdjust="spacingAndGlyphs">YX-2-107</text>
<text x="7.80" y="431.80" font-size="12" font-weight="bold" stroke="#000" stroke-width="0.45" fill="#000" textLength="7.50" lengthAdjust="spacingAndGlyphs">H</text>
<text x="54.40" y="440.20" font-size="8.8" font-weight="bold" fill="#000" textLength="53.20" lengthAdjust="spacingAndGlyphs">CD34+ HSPC</text>
<text x="61.00" y="448.20" font-size="6.6" fill="#000" textLength="41.00" lengthAdjust="spacingAndGlyphs">YX-2-107 [nM]</text>
<line x1="21.60" y1="452.50" x2="141.00" y2="452.50" stroke="#3a3a3a" stroke-width="1.3"/>
<text x="26.90" y="461.00" font-size="6.6" fill="#000" textLength="3.40" lengthAdjust="spacingAndGlyphs">0</text>
<text x="45.60" y="461.00" font-size="6.6" fill="#000" textLength="8.00" lengthAdjust="spacingAndGlyphs">1.6</text>
<text x="68.70" y="461.00" font-size="6.6" fill="#000" textLength="3.40" lengthAdjust="spacingAndGlyphs">8</text>
<text x="87.50" y="461.00" font-size="6.6" fill="#000" textLength="7.00" lengthAdjust="spacingAndGlyphs">40</text>
<text x="106.60" y="461.00" font-size="6.6" fill="#000" textLength="10.80" lengthAdjust="spacingAndGlyphs">200</text>
<text x="125.70" y="461.00" font-size="6.6" fill="#000" textLength="13.80" lengthAdjust="spacingAndGlyphs">1000</text>
<rect x="16.00" y="465.40" width="128.70" height="14.80" fill="#cccccc" />
<rect x="16.00" y="482.00" width="128.70" height="14.90" fill="#cccccc" />
<rect x="16.00" y="498.50" width="128.70" height="14.50" fill="#cccccc" />
<rect x="16.00" y="515.20" width="128.70" height="14.30" fill="#cccccc" />
<text x="148.00" y="474.80" font-size="7" fill="#1c1c1c" textLength="17.00" lengthAdjust="spacingAndGlyphs">CDK6</text>
<text x="148.00" y="490.90" font-size="7" fill="#1c1c1c" textLength="17.00" lengthAdjust="spacingAndGlyphs">CDK4</text>
<text x="148.00" y="507.30" font-size="7" fill="#1c1c1c" textLength="30.00" lengthAdjust="spacingAndGlyphs">p-RB S780</text>
<text x="148.00" y="523.80" font-size="7" fill="#1c1c1c" textLength="25.00" lengthAdjust="spacingAndGlyphs">β-ACTIN</text>
<path d="M18.70,472.90 C19.27,470.40 20.21,470.40 22.86,470.40 L33.44,470.40 C36.09,470.40 37.03,470.40 37.60,472.90 C37.03,475.40 36.09,475.40 33.44,475.40 L22.86,475.40 C20.21,475.40 19.27,475.40 18.70,472.90 Z" fill="#0a0a0a" fill-opacity="1" filter="url(#bl)"/>
<path d="M39.50,472.90 C40.06,470.40 41.00,470.40 43.64,470.40 L54.16,470.40 C56.80,470.40 57.74,470.40 58.30,472.90 C57.74,475.40 56.80,475.40 54.16,475.40 L43.64,475.40 C41.00,475.40 40.06,475.40 39.50,472.90 Z" fill="#0a0a0a" fill-opacity="1" filter="url(#bl)"/>
<path d="M60.50,472.20 C61.02,470.20 61.90,470.20 64.35,470.20 L74.15,470.20 C76.60,470.20 77.47,470.20 78.00,472.20 C77.47,474.20 76.60,474.20 74.15,474.20 L64.35,474.20 C61.90,474.20 61.02,474.20 60.50,472.20 Z" fill="#0a0a0a" fill-opacity="1" filter="url(#bl)"/>
<path d="M81.50,471.60 C82.02,469.85 82.88,469.85 85.28,469.85 L94.92,469.85 C97.32,469.85 98.18,469.85 98.70,471.60 C98.18,473.35 97.32,473.35 94.92,473.35 L85.28,473.35 C82.88,473.35 82.02,473.35 81.50,471.60 Z" fill="#0a0a0a" fill-opacity="1" filter="url(#bl)"/>
<path d="M103.00,472.00 C103.50,470.70 104.34,470.70 106.67,470.70 L116.03,470.70 C118.36,470.70 119.20,470.70 119.70,472.00 C119.20,473.30 118.36,473.30 116.03,473.30 L106.67,473.30 C104.34,473.30 103.50,473.30 103.00,472.00 Z" fill="#0a0a0a" fill-opacity="0.9" filter="url(#bl)"/>
<path d="M124.50,472.60 C124.99,471.80 125.80,471.80 128.06,471.80 L137.14,471.80 C139.40,471.80 140.21,471.80 140.70,472.60 C140.21,473.40 139.40,473.40 137.14,473.40 L128.06,473.40 C125.80,473.40 124.99,473.40 124.50,472.60 Z" fill="#0a0a0a" fill-opacity="0.28" filter="url(#bl)"/>
<path d="M19.50,488.80 C20.04,487.00 20.95,487.00 23.48,487.00 L33.62,487.00 C36.15,487.00 37.06,487.00 37.60,488.80 C37.06,490.60 36.15,490.60 33.62,490.60 L23.48,490.60 C20.95,490.60 20.04,490.60 19.50,488.80 Z" fill="#0a0a0a" fill-opacity="1" filter="url(#bl)"/>
<path d="M39.70,488.80 C40.24,486.80 41.15,486.80 43.68,486.80 L53.82,486.80 C56.35,486.80 57.26,486.80 57.80,488.80 C57.26,490.80 56.35,490.80 53.82,490.80 L43.68,490.80 C41.15,490.80 40.24,490.80 39.70,488.80 Z" fill="#0a0a0a" fill-opacity="1" filter="url(#bl)"/>
<path d="M60.50,488.00 C61.05,485.75 61.96,485.75 64.53,485.75 L74.77,485.75 C77.34,485.75 78.25,485.75 78.80,488.00 C78.25,490.25 77.34,490.25 74.77,490.25 L64.53,490.25 C61.96,490.25 61.05,490.25 60.50,488.00 Z" fill="#0a0a0a" fill-opacity="1" filter="url(#bl)"/>
<path d="M81.50,487.50 C82.04,485.25 82.94,485.25 85.46,485.25 L95.54,485.25 C98.06,485.25 98.96,485.25 99.50,487.50 C98.96,489.75 98.06,489.75 95.54,489.75 L85.46,489.75 C82.94,489.75 82.04,489.75 81.50,487.50 Z" fill="#0a0a0a" fill-opacity="1" filter="url(#bl)"/>
<path d="M103.00,487.60 C103.54,485.10 104.44,485.10 106.96,485.10 L117.04,485.10 C119.56,485.10 120.46,485.10 121.00,487.60 C120.46,490.10 119.56,490.10 117.04,490.10 L106.96,490.10 C104.44,490.10 103.54,490.10 103.00,487.60 Z" fill="#0a0a0a" fill-opacity="1" filter="url(#bl)"/>
<path d="M124.50,488.60 C125.02,486.90 125.88,486.90 128.31,486.90 L137.99,486.90 C140.42,486.90 141.28,486.90 141.80,488.60 C141.28,490.30 140.42,490.30 137.99,490.30 L128.31,490.30 C125.88,490.30 125.02,490.30 124.50,488.60 Z" fill="#0a0a0a" fill-opacity="1" filter="url(#bl)"/>
<path d="M18.70,505.80 C19.27,503.30 20.21,503.30 22.86,503.30 L33.44,503.30 C36.09,503.30 37.03,503.30 37.60,505.80 C37.03,508.30 36.09,508.30 33.44,508.30 L22.86,508.30 C20.21,508.30 19.27,508.30 18.70,505.80 Z" fill="#0a0a0a" fill-opacity="1" filter="url(#bl)"/>
<path d="M39.50,505.80 C40.03,503.30 40.92,503.30 43.39,503.30 L53.31,503.30 C55.78,503.30 56.67,503.30 57.20,505.80 C56.67,508.30 55.78,508.30 53.31,508.30 L43.39,508.30 C40.92,508.30 40.03,508.30 39.50,505.80 Z" fill="#0a0a0a" fill-opacity="1" filter="url(#bl)"/>
<path d="M60.50,505.60 C61.05,503.35 61.96,503.35 64.53,503.35 L74.77,503.35 C77.34,503.35 78.25,503.35 78.80,505.60 C78.25,507.85 77.34,507.85 74.77,507.85 L64.53,507.85 C61.96,507.85 61.05,507.85 60.50,505.60 Z" fill="#0a0a0a" fill-opacity="1" filter="url(#bl)"/>
<path d="M82.50,505.60 C83.01,503.35 83.86,503.35 86.24,503.35 L95.76,503.35 C98.14,503.35 98.99,503.35 99.50,505.60 C98.99,507.85 98.14,507.85 95.76,507.85 L86.24,507.85 C83.86,507.85 83.01,507.85 82.50,505.60 Z" fill="#0a0a0a" fill-opacity="1" filter="url(#bl)"/>
<path d="M103.50,505.00 C104.03,502.50 104.90,502.50 107.35,502.50 L117.15,502.50 C119.60,502.50 120.47,502.50 121.00,505.00 C120.47,507.50 119.60,507.50 117.15,507.50 L107.35,507.50 C104.90,507.50 104.03,507.50 103.50,505.00 Z" fill="#0a0a0a" fill-opacity="1" filter="url(#bl)"/>
<path d="M126.40,506.00 C126.84,504.50 127.58,504.50 129.66,504.50 L137.94,504.50 C140.02,504.50 140.76,504.50 141.20,506.00 C140.76,507.50 140.02,507.50 137.94,507.50 L129.66,507.50 C127.58,507.50 126.84,507.50 126.40,506.00 Z" fill="#0a0a0a" fill-opacity="1" filter="url(#bl)"/>
<path d="M18.70,523.40 C19.24,521.60 20.15,521.60 22.68,521.60 L32.82,521.60 C35.35,521.60 36.26,521.60 36.80,523.40 C36.26,525.20 35.35,525.20 32.82,525.20 L22.68,525.20 C20.15,525.20 19.24,525.20 18.70,523.40 Z" fill="#0a0a0a" fill-opacity="1" filter="url(#bl)"/>
<path d="M39.00,523.00 C39.55,521.20 40.46,521.20 43.00,521.20 L53.20,521.20 C55.74,521.20 56.65,521.20 57.20,523.00 C56.65,524.80 55.74,524.80 53.20,524.80 L43.00,524.80 C40.46,524.80 39.55,524.80 39.00,523.00 Z" fill="#0a0a0a" fill-opacity="1" filter="url(#bl)"/>
<path d="M60.50,522.00 C61.02,520.20 61.90,520.20 64.35,520.20 L74.15,520.20 C76.60,520.20 77.47,520.20 78.00,522.00 C77.47,523.80 76.60,523.80 74.15,523.80 L64.35,523.80 C61.90,523.80 61.02,523.80 60.50,522.00 Z" fill="#0a0a0a" fill-opacity="1" filter="url(#bl)"/>
<path d="M81.50,521.50 C82.02,519.70 82.88,519.70 85.28,519.70 L94.92,519.70 C97.32,519.70 98.18,519.70 98.70,521.50 C98.18,523.30 97.32,523.30 94.92,523.30 L85.28,523.30 C82.88,523.30 82.02,523.30 81.50,521.50 Z" fill="#0a0a0a" fill-opacity="1" filter="url(#bl)"/>
<path d="M103.00,521.50 C103.50,519.70 104.34,519.70 106.67,519.70 L116.03,519.70 C118.36,519.70 119.20,519.70 119.70,521.50 C119.20,523.30 118.36,523.30 116.03,523.30 L106.67,523.30 C104.34,523.30 103.50,523.30 103.00,521.50 Z" fill="#0a0a0a" fill-opacity="1" filter="url(#bl)"/>
<path d="M124.50,522.00 C125.00,520.50 125.84,520.50 128.17,520.50 L137.53,520.50 C139.86,520.50 140.70,520.50 141.20,522.00 C140.70,523.50 139.86,523.50 137.53,523.50 L128.17,523.50 C125.84,523.50 125.00,523.50 124.50,522.00 Z" fill="#0a0a0a" fill-opacity="1" filter="url(#bl)"/>
<text x="196.40" y="431.80" font-size="12" font-weight="bold" stroke="#000" stroke-width="0.45" fill="#000" textLength="3.80" lengthAdjust="spacingAndGlyphs">I</text>
<text x="254.00" y="440.20" font-size="8.8" font-weight="bold" fill="#000" textLength="26.00" lengthAdjust="spacingAndGlyphs">BV173</text>
<text x="246.60" y="448.20" font-size="6.6" fill="#000" textLength="41.40" lengthAdjust="spacingAndGlyphs">YX-2-107 [nM]</text>
<line x1="208.40" y1="452.50" x2="326.00" y2="452.50" stroke="#3a3a3a" stroke-width="1.3"/>
<text x="213.30" y="461.00" font-size="6.6" fill="#000" textLength="3.40" lengthAdjust="spacingAndGlyphs">0</text>
<text x="232.40" y="461.00" font-size="6.6" fill="#000" textLength="8.00" lengthAdjust="spacingAndGlyphs">1.6</text>
<text x="254.90" y="461.00" font-size="6.6" fill="#000" textLength="3.40" lengthAdjust="spacingAndGlyphs">8</text>
<text x="274.10" y="461.00" font-size="6.6" fill="#000" textLength="7.00" lengthAdjust="spacingAndGlyphs">40</text>
<text x="293.00" y="461.00" font-size="6.6" fill="#000" textLength="10.80" lengthAdjust="spacingAndGlyphs">200</text>
<text x="312.10" y="461.00" font-size="6.6" fill="#000" textLength="13.80" lengthAdjust="spacingAndGlyphs">1000</text>
<rect x="202.00" y="466.00" width="128.00" height="14.70" fill="#cccccc" />
<rect x="202.00" y="482.30" width="128.00" height="14.60" fill="#cccccc" />
<rect x="202.00" y="498.50" width="128.00" height="14.50" fill="#cccccc" />
<rect x="202.00" y="515.20" width="128.00" height="14.30" fill="#cccccc" />
<text x="332.40" y="474.80" font-size="7" fill="#1c1c1c" textLength="17.00" lengthAdjust="spacingAndGlyphs">CDK6</text>
<text x="332.40" y="490.90" font-size="7" fill="#1c1c1c" textLength="17.00" lengthAdjust="spacingAndGlyphs">CDK4</text>
<text x="332.40" y="507.30" font-size="7" fill="#1c1c1c" textLength="30.00" lengthAdjust="spacingAndGlyphs">p-RB S780</text>
<text x="332.40" y="523.80" font-size="7" fill="#1c1c1c" textLength="25.00" lengthAdjust="spacingAndGlyphs">β-ACTIN</text>
<path d="M205.50,472.70 C206.04,470.70 206.95,470.70 209.48,470.70 L219.62,470.70 C222.15,470.70 223.06,470.70 223.60,472.70 C223.06,474.70 222.15,474.70 219.62,474.70 L209.48,474.70 C206.95,474.70 206.04,474.70 205.50,472.70 Z" fill="#0a0a0a" fill-opacity="1" filter="url(#bl)"/>
<path d="M227.00,472.70 C227.52,470.20 228.38,470.20 230.81,470.20 L240.49,470.20 C242.92,470.20 243.78,470.20 244.30,472.70 C243.78,475.20 242.92,475.20 240.49,475.20 L230.81,475.20 C228.38,475.20 227.52,475.20 227.00,472.70 Z" fill="#0a0a0a" fill-opacity="1" filter="url(#bl)"/>
<path d="M247.00,472.80 C247.51,471.05 248.36,471.05 250.74,471.05 L260.26,471.05 C262.64,471.05 263.49,471.05 264.00,472.80 C263.49,474.55 262.64,474.55 260.26,474.55 L250.74,474.55 C248.36,474.55 247.51,474.55 247.00,472.80 Z" fill="#0a0a0a" fill-opacity="1" filter="url(#bl)"/>
<path d="M268.50,472.60 C268.97,471.35 269.76,471.35 271.95,471.35 L280.75,471.35 C282.94,471.35 283.73,471.35 284.20,472.60 C283.73,473.85 282.94,473.85 280.75,473.85 L271.95,473.85 C269.76,473.85 268.97,473.85 268.50,472.60 Z" fill="#0a0a0a" fill-opacity="1" filter="url(#bl)"/>
<path d="M289.00,472.70 C289.50,471.80 290.34,471.80 292.67,471.80 L302.03,471.80 C304.36,471.80 305.20,471.80 305.70,472.70 C305.20,473.60 304.36,473.60 302.03,473.60 L292.67,473.60 C290.34,473.60 289.50,473.60 289.00,472.70 Z" fill="#0a0a0a" fill-opacity="0.2" filter="url(#bl)"/>
<path d="M310.50,472.70 C310.96,471.90 311.73,471.90 313.89,471.90 L322.51,471.90 C324.67,471.90 325.44,471.90 325.90,472.70 C325.44,473.50 324.67,473.50 322.51,473.50 L313.89,473.50 C311.73,473.50 310.96,473.50 310.50,472.70 Z" fill="#0a0a0a" fill-opacity="0.1" filter="url(#bl)"/>
<path d="M205.50,489.00 C206.04,487.00 206.95,487.00 209.48,487.00 L219.62,487.00 C222.15,487.00 223.06,487.00 223.60,489.00 C223.06,491.00 222.15,491.00 219.62,491.00 L209.48,491.00 C206.95,491.00 206.04,491.00 205.50,489.00 Z" fill="#0a0a0a" fill-opacity="1" filter="url(#bl)"/>
<path d="M226.30,489.00 C226.83,486.75 227.70,486.75 230.15,486.75 L239.95,486.75 C242.40,486.75 243.28,486.75 243.80,489.00 C243.28,491.25 242.40,491.25 239.95,491.25 L230.15,491.25 C227.70,491.25 226.83,491.25 226.30,489.00 Z" fill="#0a0a0a" fill-opacity="1" filter="url(#bl)"/>
<path d="M246.50,489.00 C247.03,486.75 247.90,486.75 250.35,486.75 L260.15,486.75 C262.60,486.75 263.48,486.75 264.00,489.00 C263.48,491.25 262.60,491.25 260.15,491.25 L250.35,491.25 C247.90,491.25 247.03,491.25 246.50,489.00 Z" fill="#0a0a0a" fill-opacity="1" filter="url(#bl)"/>
<path d="M267.50,488.00 C268.02,485.75 268.88,485.75 271.28,485.75 L280.92,485.75 C283.32,485.75 284.18,485.75 284.70,488.00 C284.18,490.25 283.32,490.25 280.92,490.25 L271.28,490.25 C268.88,490.25 268.02,490.25 267.50,488.00 Z" fill="#0a0a0a" fill-opacity="1" filter="url(#bl)"/>
<path d="M288.20,487.50 C288.71,485.50 289.56,485.50 291.94,485.50 L301.46,485.50 C303.84,485.50 304.69,485.50 305.20,487.50 C304.69,489.50 303.84,489.50 301.46,489.50 L291.94,489.50 C289.56,489.50 288.71,489.50 288.20,487.50 Z" fill="#0a0a0a" fill-opacity="1" filter="url(#bl)"/>
<path d="M309.70,487.50 C310.21,485.75 311.06,485.75 313.44,485.75 L322.96,485.75 C325.34,485.75 326.19,485.75 326.70,487.50 C326.19,489.25 325.34,489.25 322.96,489.25 L313.44,489.25 C311.06,489.25 310.21,489.25 309.70,487.50 Z" fill="#0a0a0a" fill-opacity="1" filter="url(#bl)"/>
<path d="M205.50,505.80 C206.02,504.30 206.88,504.30 209.31,504.30 L218.99,504.30 C221.42,504.30 222.28,504.30 222.80,505.80 C222.28,507.30 221.42,507.30 218.99,507.30 L209.31,507.30 C206.88,507.30 206.02,507.30 205.50,505.80 Z" fill="#0a0a0a" fill-opacity="1" filter="url(#bl)"/>
<path d="M227.00,505.80 C227.46,504.30 228.23,504.30 230.39,504.30 L239.01,504.30 C241.17,504.30 241.94,504.30 242.40,505.80 C241.94,507.30 241.17,507.30 239.01,507.30 L230.39,507.30 C228.23,507.30 227.46,507.30 227.00,505.80 Z" fill="#0a0a0a" fill-opacity="1" filter="url(#bl)"/>
<path d="M247.00,505.80 C247.49,504.30 248.30,504.30 250.56,504.30 L259.64,504.30 C261.90,504.30 262.71,504.30 263.20,505.80 C262.71,507.30 261.90,507.30 259.64,507.30 L250.56,507.30 C248.30,507.30 247.49,507.30 247.00,505.80 Z" fill="#0a0a0a" fill-opacity="1" filter="url(#bl)"/>
<path d="M268.50,505.80 C268.95,504.30 269.71,504.30 271.82,504.30 L280.28,504.30 C282.39,504.30 283.15,504.30 283.60,505.80 C283.15,507.30 282.39,507.30 280.28,507.30 L271.82,507.30 C269.71,507.30 268.95,507.30 268.50,505.80 Z" fill="#0a0a0a" fill-opacity="1" filter="url(#bl)"/>
<path d="M288.20,505.80 C288.66,504.40 289.42,504.40 291.57,504.40 L300.13,504.40 C302.28,504.40 303.04,504.40 303.50,505.80 C303.04,507.20 302.28,507.20 300.13,507.20 L291.57,507.20 C289.42,507.20 288.66,507.20 288.20,505.80 Z" fill="#0a0a0a" fill-opacity="0.6" filter="url(#bl)"/>
<path d="M309.70,505.80 C310.14,504.80 310.88,504.80 312.96,504.80 L321.24,504.80 C323.32,504.80 324.06,504.80 324.50,505.80 C324.06,506.80 323.32,506.80 321.24,506.80 L312.96,506.80 C310.88,506.80 310.14,506.80 309.70,505.80 Z" fill="#0a0a0a" fill-opacity="0.12" filter="url(#bl)"/>
<path d="M205.50,524.00 C206.07,521.50 207.01,521.50 209.66,521.50 L220.24,521.50 C222.89,521.50 223.83,521.50 224.40,524.00 C223.83,526.50 222.89,526.50 220.24,526.50 L209.66,526.50 C207.01,526.50 206.07,526.50 205.50,524.00 Z" fill="#0a0a0a" fill-opacity="1" filter="url(#bl)"/>
<path d="M227.00,523.50 C227.52,521.50 228.38,521.50 230.81,521.50 L240.49,521.50 C242.92,521.50 243.78,521.50 244.30,523.50 C243.78,525.50 242.92,525.50 240.49,525.50 L230.81,525.50 C228.38,525.50 227.52,525.50 227.00,523.50 Z" fill="#0a0a0a" fill-opacity="1" filter="url(#bl)"/>
<path d="M247.00,523.00 C247.51,521.00 248.36,521.00 250.74,521.00 L260.26,521.00 C262.64,521.00 263.49,521.00 264.00,523.00 C263.49,525.00 262.64,525.00 260.26,525.00 L250.74,525.00 C248.36,525.00 247.51,525.00 247.00,523.00 Z" fill="#0a0a0a" fill-opacity="1" filter="url(#bl)"/>
<path d="M268.00,522.00 C268.49,520.25 269.30,520.25 271.56,520.25 L280.64,520.25 C282.90,520.25 283.71,520.25 284.20,522.00 C283.71,523.75 282.90,523.75 280.64,523.75 L271.56,523.75 C269.30,523.75 268.49,523.75 268.00,522.00 Z" fill="#0a0a0a" fill-opacity="1" filter="url(#bl)"/>
<path d="M288.20,521.50 C288.71,519.75 289.56,519.75 291.94,519.75 L301.46,519.75 C303.84,519.75 304.69,519.75 305.20,521.50 C304.69,523.25 303.84,523.25 301.46,523.25 L291.94,523.25 C289.56,523.25 288.71,523.25 288.20,521.50 Z" fill="#0a0a0a" fill-opacity="1" filter="url(#bl)"/>
<path d="M309.70,521.00 C310.21,519.00 311.06,519.00 313.44,519.00 L322.96,519.00 C325.34,519.00 326.19,519.00 326.70,521.00 C326.19,523.00 325.34,523.00 322.96,523.00 L313.44,523.00 C311.06,523.00 310.21,523.00 309.70,521.00 Z" fill="#0a0a0a" fill-opacity="1" filter="url(#bl)"/>
<text x="8.40" y="551.80" font-size="12" font-weight="bold" stroke="#000" stroke-width="0.45" fill="#000" textLength="5.80" lengthAdjust="spacingAndGlyphs">J</text>
<line x1="45.00" y1="562.40" x2="45.00" y2="665.60" stroke="#000" stroke-width="1.2"/>
<line x1="44.40" y1="665.20" x2="179.40" y2="665.20" stroke="#000" stroke-width="1.2"/>
<line x1="42.60" y1="665.20" x2="45.00" y2="665.20" stroke="#000" stroke-width="0.9"/>
<text x="35.80" y="667.60" font-size="6.8" fill="#000" textLength="3.60" lengthAdjust="spacingAndGlyphs">0</text>
<line x1="42.60" y1="648.43" x2="45.00" y2="648.43" stroke="#000" stroke-width="0.9"/>
<text x="32.20" y="650.83" font-size="6.8" fill="#000" textLength="7.20" lengthAdjust="spacingAndGlyphs">20</text>
<line x1="42.60" y1="631.67" x2="45.00" y2="631.67" stroke="#000" stroke-width="0.9"/>
<text x="32.20" y="634.07" font-size="6.8" fill="#000" textLength="7.20" lengthAdjust="spacingAndGlyphs">40</text>
<line x1="42.60" y1="614.90" x2="45.00" y2="614.90" stroke="#000" stroke-width="0.9"/>
<text x="32.20" y="617.30" font-size="6.8" fill="#000" textLength="7.20" lengthAdjust="spacingAndGlyphs">60</text>
<line x1="42.60" y1="598.14" x2="45.00" y2="598.14" stroke="#000" stroke-width="0.9"/>
<text x="32.20" y="600.54" font-size="6.8" fill="#000" textLength="7.20" lengthAdjust="spacingAndGlyphs">80</text>
<line x1="42.60" y1="581.37" x2="45.00" y2="581.37" stroke="#000" stroke-width="0.9"/>
<text x="29.00" y="583.77" font-size="6.8" fill="#000" textLength="10.40" lengthAdjust="spacingAndGlyphs">100</text>
<line x1="42.60" y1="564.60" x2="45.00" y2="564.60" stroke="#000" stroke-width="0.9"/>
<text x="29.00" y="567.00" font-size="6.8" fill="#000" textLength="10.40" lengthAdjust="spacingAndGlyphs">120</text>
<text transform="translate(23.40,628.80) rotate(-90)" x="0" y="0" font-size="9.2" fill="#000" textLength="30.60" lengthAdjust="spacingAndGlyphs">% S phase</text>
<rect x="49.60" y="581.37" width="6.00" height="83.83" fill="#2c4a82" />
<line x1="52.60" y1="578.02" x2="52.60" y2="584.72" stroke="#000" stroke-width="0.8"/>
<line x1="51.40" y1="578.02" x2="53.80" y2="578.02" stroke="#000" stroke-width="0.8"/>
<line x1="51.40" y1="584.72" x2="53.80" y2="584.72" stroke="#000" stroke-width="0.8"/>
<rect x="57.40" y="581.37" width="5.60" height="83.83" fill="#aa0530" />
<line x1="60.20" y1="577.18" x2="60.20" y2="585.56" stroke="#000" stroke-width="0.8"/>
<line x1="59.00" y1="577.18" x2="61.40" y2="577.18" stroke="#000" stroke-width="0.8"/>
<line x1="59.00" y1="585.56" x2="61.40" y2="585.56" stroke="#000" stroke-width="0.8"/>
<rect x="72.00" y="584.72" width="6.00" height="80.48" fill="#2c4a82" />
<line x1="75.00" y1="583.47" x2="75.00" y2="585.98" stroke="#000" stroke-width="0.8"/>
<line x1="73.80" y1="583.47" x2="76.20" y2="583.47" stroke="#000" stroke-width="0.8"/>
<line x1="73.80" y1="585.98" x2="76.20" y2="585.98" stroke="#000" stroke-width="0.8"/>
<rect x="79.40" y="580.53" width="6.20" height="84.67" fill="#aa0530" />
<line x1="82.50" y1="577.60" x2="82.50" y2="583.47" stroke="#000" stroke-width="0.8"/>
<line x1="81.30" y1="577.60" x2="83.70" y2="577.60" stroke="#000" stroke-width="0.8"/>
<line x1="81.30" y1="583.47" x2="83.70" y2="583.47" stroke="#000" stroke-width="0.8"/>
<rect x="94.40" y="589.75" width="5.60" height="75.45" fill="#2c4a82" />
<line x1="97.20" y1="588.08" x2="97.20" y2="591.43" stroke="#000" stroke-width="0.8"/>
<line x1="96.00" y1="588.08" x2="98.40" y2="588.08" stroke="#000" stroke-width="0.8"/>
<line x1="96.00" y1="591.43" x2="98.40" y2="591.43" stroke="#000" stroke-width="0.8"/>
<rect x="102.00" y="583.05" width="6.00" height="82.15" fill="#aa0530" />
<line x1="105.00" y1="581.79" x2="105.00" y2="584.30" stroke="#000" stroke-width="0.8"/>
<line x1="103.80" y1="581.79" x2="106.20" y2="581.79" stroke="#000" stroke-width="0.8"/>
<line x1="103.80" y1="584.30" x2="106.20" y2="584.30" stroke="#000" stroke-width="0.8"/>
<rect x="117.00" y="604.00" width="5.80" height="61.20" fill="#2c4a82" />
<line x1="119.90" y1="599.39" x2="119.90" y2="608.61" stroke="#000" stroke-width="0.8"/>
<line x1="118.70" y1="599.39" x2="121.10" y2="599.39" stroke="#000" stroke-width="0.8"/>
<line x1="118.70" y1="608.61" x2="121.10" y2="608.61" stroke="#000" stroke-width="0.8"/>
<rect x="124.20" y="586.40" width="6.20" height="78.80" fill="#aa0530" />
<line x1="127.30" y1="585.56" x2="127.30" y2="587.24" stroke="#000" stroke-width="0.8"/>
<line x1="126.10" y1="585.56" x2="128.50" y2="585.56" stroke="#000" stroke-width="0.8"/>
<line x1="126.10" y1="587.24" x2="128.50" y2="587.24" stroke="#000" stroke-width="0.8"/>
<rect x="139.60" y="632.93" width="5.60" height="32.27" fill="#2c4a82" />
<line x1="142.40" y1="626.22" x2="142.40" y2="639.63" stroke="#000" stroke-width="0.8"/>
<line x1="141.20" y1="626.22" x2="143.60" y2="626.22" stroke="#000" stroke-width="0.8"/>
<line x1="141.20" y1="639.63" x2="143.60" y2="639.63" stroke="#000" stroke-width="0.8"/>
<rect x="147.00" y="591.43" width="6.20" height="73.77" fill="#aa0530" />
<line x1="150.10" y1="589.75" x2="150.10" y2="593.11" stroke="#000" stroke-width="0.8"/>
<line x1="148.90" y1="589.75" x2="151.30" y2="589.75" stroke="#000" stroke-width="0.8"/>
<line x1="148.90" y1="593.11" x2="151.30" y2="593.11" stroke="#000" stroke-width="0.8"/>
<rect x="162.00" y="656.82" width="5.60" height="8.38" fill="#2c4a82" />
<line x1="164.80" y1="654.72" x2="164.80" y2="658.91" stroke="#000" stroke-width="0.8"/>
<line x1="163.60" y1="654.72" x2="166.00" y2="654.72" stroke="#000" stroke-width="0.8"/>
<line x1="163.60" y1="658.91" x2="166.00" y2="658.91" stroke="#000" stroke-width="0.8"/>
<rect x="169.00" y="604.84" width="6.40" height="60.36" fill="#aa0530" />
<line x1="172.20" y1="603.58" x2="172.20" y2="606.10" stroke="#000" stroke-width="0.8"/>
<line x1="171.00" y1="603.58" x2="173.40" y2="603.58" stroke="#000" stroke-width="0.8"/>
<line x1="171.00" y1="606.10" x2="173.40" y2="606.10" stroke="#000" stroke-width="0.8"/>
<text x="54.60" y="674.40" font-size="6.8" fill="#000" textLength="3.60" lengthAdjust="spacingAndGlyphs">0</text>
<text x="74.80" y="674.40" font-size="6.8" fill="#000" textLength="8.40" lengthAdjust="spacingAndGlyphs">1.6</text>
<text x="99.20" y="674.40" font-size="6.8" fill="#000" textLength="3.60" lengthAdjust="spacingAndGlyphs">8</text>
<text x="120.20" y="674.40" font-size="6.8" fill="#000" textLength="6.80" lengthAdjust="spacingAndGlyphs">40</text>
<text x="140.80" y="674.40" font-size="6.8" fill="#000" textLength="10.40" lengthAdjust="spacingAndGlyphs">200</text>
<text x="161.50" y="674.40" font-size="6.8" fill="#000" textLength="14.20" lengthAdjust="spacingAndGlyphs">1000</text>
<line x1="50.00" y1="678.60" x2="176.00" y2="678.60" stroke="#222" stroke-width="1.1"/>
<text x="91.00" y="688.40" font-size="7.4" fill="#000" textLength="44.00" lengthAdjust="spacingAndGlyphs">YX-2-107 [nM]</text>
<rect x="154.40" y="563.20" width="3.60" height="3.60" fill="#2c4a82" />
<text x="161.00" y="567.60" font-size="6.8" fill="#000" textLength="18.00" lengthAdjust="spacingAndGlyphs">BV173</text>
<rect x="154.40" y="573.60" width="3.60" height="3.60" fill="#aa0530" />
<text x="161.00" y="578.00" font-size="6.8" fill="#000" textLength="16.00" lengthAdjust="spacingAndGlyphs">HSPC</text>
<line x1="211.00" y1="562.40" x2="211.00" y2="665.80" stroke="#000" stroke-width="1.2"/>
<line x1="210.40" y1="665.40" x2="241.00" y2="665.40" stroke="#000" stroke-width="1.2"/>
<line x1="208.60" y1="665.40" x2="211.00" y2="665.40" stroke="#000" stroke-width="0.9"/>
<text x="202.00" y="667.80" font-size="6.8" fill="#000" textLength="3.60" lengthAdjust="spacingAndGlyphs">0</text>
<line x1="208.60" y1="648.63" x2="211.00" y2="648.63" stroke="#000" stroke-width="0.9"/>
<text x="198.40" y="651.03" font-size="6.8" fill="#000" textLength="7.20" lengthAdjust="spacingAndGlyphs">20</text>
<line x1="208.60" y1="631.87" x2="211.00" y2="631.87" stroke="#000" stroke-width="0.9"/>
<text x="198.40" y="634.27" font-size="6.8" fill="#000" textLength="7.20" lengthAdjust="spacingAndGlyphs">40</text>
<line x1="208.60" y1="615.10" x2="211.00" y2="615.10" stroke="#000" stroke-width="0.9"/>
<text x="198.40" y="617.50" font-size="6.8" fill="#000" textLength="7.20" lengthAdjust="spacingAndGlyphs">60</text>
<line x1="208.60" y1="598.34" x2="211.00" y2="598.34" stroke="#000" stroke-width="0.9"/>
<text x="198.40" y="600.74" font-size="6.8" fill="#000" textLength="7.20" lengthAdjust="spacingAndGlyphs">80</text>
<line x1="208.60" y1="581.57" x2="211.00" y2="581.57" stroke="#000" stroke-width="0.9"/>
<text x="195.20" y="583.97" font-size="6.8" fill="#000" textLength="10.40" lengthAdjust="spacingAndGlyphs">100</text>
<line x1="208.60" y1="564.80" x2="211.00" y2="564.80" stroke="#000" stroke-width="0.9"/>
<text x="195.20" y="567.20" font-size="6.8" fill="#000" textLength="10.40" lengthAdjust="spacingAndGlyphs">120</text>
<rect x="217.00" y="663.72" width="7.00" height="1.68" fill="#2c4a82" />
<line x1="220.50" y1="659.53" x2="220.50" y2="665.40" stroke="#000" stroke-width="0.8"/>
<line x1="219.30" y1="659.53" x2="221.70" y2="659.53" stroke="#000" stroke-width="0.8"/>
<line x1="219.30" y1="665.40" x2="221.70" y2="665.40" stroke="#000" stroke-width="0.8"/>
<rect x="229.00" y="657.02" width="7.40" height="8.38" fill="#aa0530" />
<line x1="232.70" y1="651.99" x2="232.70" y2="662.05" stroke="#000" stroke-width="0.8"/>
<line x1="231.50" y1="651.99" x2="233.90" y2="651.99" stroke="#000" stroke-width="0.8"/>
<line x1="231.50" y1="662.05" x2="233.90" y2="662.05" stroke="#000" stroke-width="0.8"/>
<text x="219.00" y="674.20" font-size="6.8" fill="#000" textLength="15.00" lengthAdjust="spacingAndGlyphs">PALB</text>
<rect x="215.90" y="563.60" width="3.90" height="3.60" fill="#2c4a82" />
<text x="222.80" y="567.60" font-size="6.8" fill="#000" textLength="18.20" lengthAdjust="spacingAndGlyphs">BV173</text>
<rect x="215.90" y="573.80" width="3.90" height="3.60" fill="#aa0530" />
<text x="222.80" y="578.00" font-size="6.8" fill="#000" textLength="16.20" lengthAdjust="spacingAndGlyphs">HSPC</text>
<text x="254.40" y="551.80" font-size="12" font-weight="bold" stroke="#000" stroke-width="0.45" fill="#000" textLength="8.00" lengthAdjust="spacingAndGlyphs">K</text>
<text x="328.60" y="561.60" font-size="8.6" font-weight="bold" fill="#000" textLength="53.40" lengthAdjust="spacingAndGlyphs">CD34+ HSPC</text>
<text x="285.00" y="574.40" font-size="9" fill="#000" textLength="15.40" lengthAdjust="spacingAndGlyphs">SCR</text>
<text x="316.00" y="574.40" font-size="9" fill="#000" textLength="31.40" lengthAdjust="spacingAndGlyphs">shCDK4</text>
<text x="358.00" y="574.40" font-size="9" fill="#000" textLength="31.00" lengthAdjust="spacingAndGlyphs">shCDK6</text>
<text x="406.00" y="574.40" font-size="9" fill="#000" textLength="20.00" lengthAdjust="spacingAndGlyphs">PALB</text>
<text transform="translate(270.60,637.40) rotate(-90)" x="0" y="0" font-size="9" fill="#000" textLength="29.40" lengthAdjust="spacingAndGlyphs">Cell count</text>
<rect x="274.75" y="578.75" width="35.50" height="86.50" fill="none" stroke="#1e1e1e" stroke-width="1.5" rx="0.6"/>
<rect x="313.75" y="578.75" width="35.50" height="86.50" fill="none" stroke="#1e1e1e" stroke-width="1.5" rx="0.6"/>
<rect x="355.75" y="578.75" width="35.50" height="86.50" fill="none" stroke="#1e1e1e" stroke-width="1.5" rx="0.6"/>
<rect x="398.75" y="578.75" width="34.50" height="86.50" fill="none" stroke="#1e1e1e" stroke-width="1.5" rx="0.6"/>
<line x1="274.00" y1="672.30" x2="434.40" y2="672.30" stroke="#000" stroke-width="1.1"/>
<path d="M432.40,670.00 L437.40,672.30 L432.40,674.60 L433.40,672.30 Z" fill="#000" stroke="none" stroke-width="1" />
<text x="337.00" y="682.60" font-size="8.6" fill="#000" textLength="37.00" lengthAdjust="spacingAndGlyphs">DNA content</text>
<path d="M279.80,665.40 L280.20,656.20 L280.45,614.36 L280.90,584.80 L281.00,583.80 L282.00,583.80 L282.55,606.72 L283.40,644.92 L284.30,657.20 L285.10,659.40 L286.00,660.10 L287.00,660.45 L288.00,660.10 L289.00,660.45 L290.00,660.10 L291.00,660.45 L292.00,660.10 L293.00,660.45 L294.00,660.10 L295.00,660.45 L296.00,660.10 L297.00,660.45 L298.00,660.10 L299.00,660.45 L300.00,660.10 L301.00,660.45 L301.90,659.40 L302.40,660.20 L302.70,657.70 L304.10,658.10 L304.60,658.70 L306.40,662.90 L307.20,665.40 Z" fill="#4a1c64" stroke="none" stroke-width="1" />
<path d="M318.90,665.40 L319.30,656.20 L319.55,614.72 L320.00,585.40 L320.10,584.40 L321.10,584.40 L321.65,607.14 L322.50,645.04 L323.40,657.20 L324.20,659.40 L325.10,660.10 L326.10,660.45 L327.10,660.10 L328.10,660.45 L329.10,660.10 L330.10,660.45 L331.10,660.10 L332.10,660.45 L333.10,660.10 L334.10,660.45 L335.10,660.10 L336.10,660.45 L337.10,660.10 L338.10,660.45 L339.10,660.10 L340.50,659.40 L341.00,659.90 L341.30,657.40 L342.70,657.80 L343.20,658.70 L345.20,662.90 L346.00,665.40 Z" fill="#5cab3c" stroke="none" stroke-width="1" />
<path d="M361.50,665.40 L361.90,658.60 L362.15,616.04 L362.60,586.00 L362.70,585.00 L363.70,585.00 L364.25,608.28 L365.10,647.08 L366.00,659.60 L366.80,661.80 L367.70,662.50 L368.70,662.85 L369.70,662.50 L370.70,662.85 L371.70,662.50 L372.70,662.85 L373.70,662.50 L374.70,662.85 L375.70,662.50 L376.70,662.85 L377.70,662.50 L378.70,662.85 L379.70,662.50 L380.70,662.85 L381.70,662.50 L382.90,661.80 L383.40,661.90 L383.70,659.40 L385.10,659.80 L385.60,661.10 L388.00,662.90 L388.80,665.40 Z" fill="#26478a" stroke="none" stroke-width="1" />
<path d="M402.73,665.40 L403.28,657.40 L404.15,587.00 L404.30,583.00 L404.90,583.00 L405.10,587.00 L406.03,657.40 L406.80,665.40 Z" fill="#b1123a" stroke="none" stroke-width="1" />
<path d="M427.50,665.40 L429.00,664.20 L430.50,665.40 Z" fill="#b1123a" stroke="none" stroke-width="1" />
<text x="287.00" y="639.60" font-size="6.6" fill="#000" textLength="13.00" lengthAdjust="spacingAndGlyphs">21.9</text>
<line x1="285.60" y1="644.50" x2="301.40" y2="644.50" stroke="#262626" stroke-width="1.0"/>
<line x1="286.10" y1="643.00" x2="286.10" y2="646.00" stroke="#262626" stroke-width="1.0"/>
<line x1="300.90" y1="643.00" x2="300.90" y2="646.00" stroke="#262626" stroke-width="1.0"/>
<text x="325.60" y="639.60" font-size="6.6" fill="#000" textLength="13.00" lengthAdjust="spacingAndGlyphs">22.0</text>
<line x1="324.60" y1="644.50" x2="340.00" y2="644.50" stroke="#262626" stroke-width="1.0"/>
<line x1="325.10" y1="643.00" x2="325.10" y2="646.00" stroke="#262626" stroke-width="1.0"/>
<line x1="339.50" y1="643.00" x2="339.50" y2="646.00" stroke="#262626" stroke-width="1.0"/>
<text x="368.00" y="639.60" font-size="6.6" fill="#000" textLength="13.00" lengthAdjust="spacingAndGlyphs">13.5</text>
<line x1="366.40" y1="644.50" x2="382.40" y2="644.50" stroke="#262626" stroke-width="1.0"/>
<line x1="366.90" y1="643.00" x2="366.90" y2="646.00" stroke="#262626" stroke-width="1.0"/>
<line x1="381.90" y1="643.00" x2="381.90" y2="646.00" stroke="#262626" stroke-width="1.0"/>
<text x="412.60" y="642.00" font-size="6.6" fill="#000" textLength="9.40" lengthAdjust="spacingAndGlyphs">2.2</text>
<line x1="408.60" y1="646.50" x2="426.00" y2="646.50" stroke="#262626" stroke-width="1.0"/>
<line x1="409.10" y1="645.00" x2="409.10" y2="648.00" stroke="#262626" stroke-width="1.0"/>
<line x1="425.50" y1="645.00" x2="425.50" y2="648.00" stroke="#262626" stroke-width="1.0"/>
<rect x="0.6" y="0.6" width="518.8" height="696.6" fill="none" stroke="#000" stroke-width="1.3"/>
</svg>
</body></html>
